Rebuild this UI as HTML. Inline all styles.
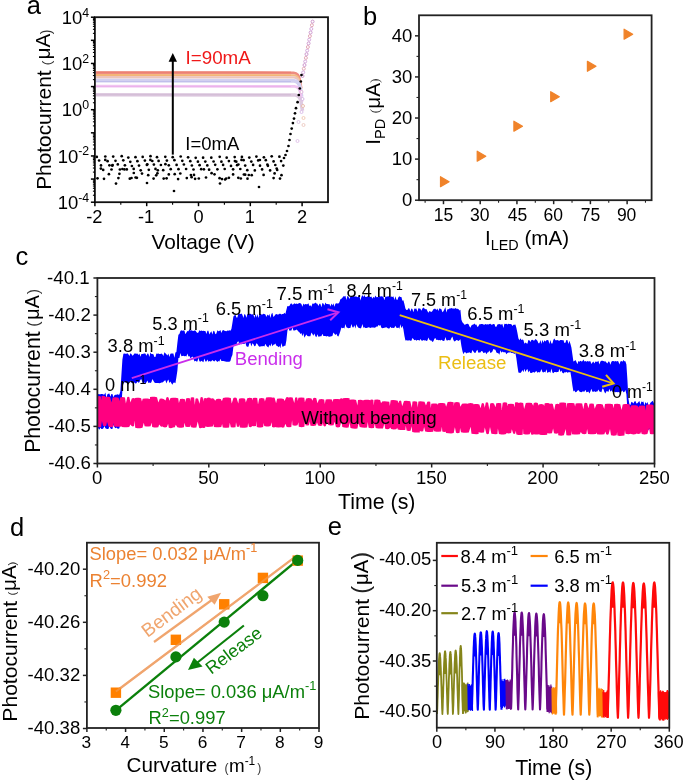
<!DOCTYPE html>
<html><head><meta charset="utf-8"><style>html,body{margin:0;padding:0;background:#fff;} svg{display:block;will-change:transform;} text{font-family:"Liberation Sans",sans-serif;}</style></head>
<body><svg width="685" height="780" viewBox="0 0 685 780">
<rect width="685" height="780" fill="#fff"/>
<path d="M95.9,72.6 L293.7,72.8 Q298.7,73.1 299.7,79.6 L301.2,88.6" fill="none" stroke="#EE8C80" stroke-width="2.8"/>
<path d="M95.9,75.0 L293.8,75.2 Q298.8,75.5 299.8,82.0 L301.3,91.0" fill="none" stroke="#F4BC84" stroke-width="2.0"/>
<path d="M95.9,77.2 L293.9,77.4 Q298.9,77.7 299.9,84.2 L301.4,93.2" fill="none" stroke="#ECC4BC" stroke-width="2.4"/>
<path d="M95.9,80.7 L294.1,80.9 Q299.1,81.2 300.1,87.7 L301.6,96.7" fill="none" stroke="#D2D0F0" stroke-width="3.8"/>
<path d="M95.9,86.2 L294.5,86.4 Q299.5,86.7 300.5,93.2 L302.0,102.2" fill="none" stroke="#F0C4F0" stroke-width="2.8"/>
<path d="M95.9,94.8 L295.0,95.0 Q300.0,95.3 301.0,101.8 L302.5,110.8" fill="none" stroke="#DECAE0" stroke-width="3.6"/>
<line x1="95.9" y1="72.0" x2="291" y2="72.0" stroke="#E4503E" stroke-width="0.8" opacity="0.45"/>
<line x1="95.9" y1="75.0" x2="291" y2="75.0" stroke="#EE9A40" stroke-width="0.8" opacity="0.45"/>
<line x1="95.9" y1="81.6" x2="291" y2="81.6" stroke="#9C9CE0" stroke-width="0.8" opacity="0.45"/>
<line x1="95.9" y1="86.4" x2="291" y2="86.4" stroke="#E48CE6" stroke-width="0.8" opacity="0.45"/>
<line x1="95.9" y1="94.8" x2="291" y2="94.8" stroke="#B898BC" stroke-width="0.8" opacity="0.45"/>
<circle cx="302.5" cy="76.0" r="1.5" fill="#fff" stroke="#C890C8" stroke-width="0.9"/>
<circle cx="303.2" cy="72.4" r="1.5" fill="#fff" stroke="#D0A0D8" stroke-width="0.9"/>
<circle cx="303.8" cy="68.7" r="1.5" fill="#fff" stroke="#E0A0B0" stroke-width="0.9"/>
<circle cx="304.5" cy="65.1" r="1.5" fill="#fff" stroke="#C890C8" stroke-width="0.9"/>
<circle cx="305.2" cy="61.5" r="1.5" fill="#fff" stroke="#D0A0D8" stroke-width="0.9"/>
<circle cx="305.9" cy="57.9" r="1.5" fill="#fff" stroke="#E0A0B0" stroke-width="0.9"/>
<circle cx="306.5" cy="54.2" r="1.5" fill="#fff" stroke="#C890C8" stroke-width="0.9"/>
<circle cx="307.2" cy="50.6" r="1.5" fill="#fff" stroke="#D0A0D8" stroke-width="0.9"/>
<circle cx="307.9" cy="47.0" r="1.5" fill="#fff" stroke="#E0A0B0" stroke-width="0.9"/>
<circle cx="308.6" cy="43.4" r="1.5" fill="#fff" stroke="#C890C8" stroke-width="0.9"/>
<circle cx="309.2" cy="39.7" r="1.5" fill="#fff" stroke="#D0A0D8" stroke-width="0.9"/>
<circle cx="309.9" cy="36.1" r="1.5" fill="#fff" stroke="#E0A0B0" stroke-width="0.9"/>
<circle cx="310.6" cy="32.5" r="1.5" fill="#fff" stroke="#C890C8" stroke-width="0.9"/>
<circle cx="311.3" cy="28.9" r="1.5" fill="#fff" stroke="#D0A0D8" stroke-width="0.9"/>
<circle cx="311.9" cy="25.2" r="1.5" fill="#fff" stroke="#E0A0B0" stroke-width="0.9"/>
<circle cx="312.6" cy="21.6" r="1.5" fill="#fff" stroke="#C890C8" stroke-width="0.9"/>
<circle cx="301.5" cy="92.0" r="1.5" fill="#fff" stroke="#E0B0D8" stroke-width="0.9"/>
<circle cx="302.5" cy="99.0" r="1.5" fill="#fff" stroke="#D0B0E0" stroke-width="0.9"/>
<circle cx="303.0" cy="106.0" r="1.5" fill="#fff" stroke="#E8B8A8" stroke-width="0.9"/>
<circle cx="301.5" cy="112.0" r="1.5" fill="#fff" stroke="#D8B8E8" stroke-width="0.9"/>
<circle cx="303.5" cy="118.0" r="1.5" fill="#fff" stroke="#F0C8B0" stroke-width="0.9"/>
<circle cx="303.5" cy="125.0" r="1.5" fill="#fff" stroke="#ECC8C0" stroke-width="0.9"/>
<circle cx="298.5" cy="122.0" r="1.5" fill="#fff" stroke="#D8C0E0" stroke-width="0.9"/>
<circle cx="297.5" cy="141.0" r="1.5" fill="#fff" stroke="#E0C0E8" stroke-width="0.9"/>
<circle cx="96.8" cy="156.9" r="1.35" fill="#000"/>
<circle cx="97.5" cy="178.3" r="1.35" fill="#000"/>
<circle cx="99.1" cy="160.5" r="1.35" fill="#000"/>
<circle cx="101.0" cy="165.4" r="1.35" fill="#000"/>
<circle cx="100.9" cy="168.6" r="1.35" fill="#000"/>
<circle cx="103.2" cy="169.9" r="1.35" fill="#000"/>
<circle cx="104.0" cy="178.8" r="1.35" fill="#000"/>
<circle cx="105.3" cy="156.5" r="1.35" fill="#000"/>
<circle cx="105.3" cy="159.9" r="1.35" fill="#000"/>
<circle cx="107.6" cy="161.2" r="1.35" fill="#000"/>
<circle cx="109.4" cy="165.3" r="1.35" fill="#000"/>
<circle cx="108.9" cy="174.2" r="1.35" fill="#000"/>
<circle cx="111.5" cy="169.5" r="1.35" fill="#000"/>
<circle cx="112.3" cy="165.7" r="1.35" fill="#000"/>
<circle cx="113.2" cy="156.6" r="1.35" fill="#000"/>
<circle cx="112.6" cy="165.0" r="1.35" fill="#000"/>
<circle cx="115.5" cy="160.8" r="1.35" fill="#000"/>
<circle cx="117.8" cy="164.4" r="1.35" fill="#000"/>
<circle cx="118.4" cy="178.1" r="1.35" fill="#000"/>
<circle cx="119.9" cy="169.5" r="1.35" fill="#000"/>
<circle cx="119.4" cy="173.8" r="1.35" fill="#000"/>
<circle cx="121.7" cy="156.2" r="1.35" fill="#000"/>
<circle cx="122.4" cy="169.0" r="1.35" fill="#000"/>
<circle cx="123.3" cy="160.3" r="1.35" fill="#000"/>
<circle cx="124.9" cy="165.3" r="1.35" fill="#000"/>
<circle cx="124.4" cy="169.4" r="1.35" fill="#000"/>
<circle cx="126.8" cy="169.4" r="1.35" fill="#000"/>
<circle cx="128.3" cy="157.6" r="1.35" fill="#000"/>
<circle cx="130.3" cy="161.8" r="1.35" fill="#000"/>
<circle cx="129.8" cy="178.7" r="1.35" fill="#000"/>
<circle cx="131.9" cy="166.0" r="1.35" fill="#000"/>
<circle cx="131.5" cy="178.0" r="1.35" fill="#000"/>
<circle cx="133.7" cy="168.9" r="1.35" fill="#000"/>
<circle cx="133.8" cy="173.0" r="1.35" fill="#000"/>
<circle cx="135.5" cy="157.2" r="1.35" fill="#000"/>
<circle cx="135.6" cy="177.5" r="1.35" fill="#000"/>
<circle cx="137.4" cy="161.2" r="1.35" fill="#000"/>
<circle cx="136.9" cy="177.8" r="1.35" fill="#000"/>
<circle cx="139.0" cy="165.6" r="1.35" fill="#000"/>
<circle cx="140.7" cy="170.3" r="1.35" fill="#000"/>
<circle cx="142.7" cy="156.9" r="1.35" fill="#000"/>
<circle cx="142.0" cy="173.6" r="1.35" fill="#000"/>
<circle cx="144.9" cy="160.6" r="1.35" fill="#000"/>
<circle cx="146.9" cy="164.9" r="1.35" fill="#000"/>
<circle cx="147.3" cy="164.3" r="1.35" fill="#000"/>
<circle cx="148.8" cy="169.8" r="1.35" fill="#000"/>
<circle cx="148.2" cy="175.2" r="1.35" fill="#000"/>
<circle cx="150.5" cy="156.2" r="1.35" fill="#000"/>
<circle cx="150.4" cy="159.9" r="1.35" fill="#000"/>
<circle cx="152.3" cy="161.0" r="1.35" fill="#000"/>
<circle cx="153.9" cy="164.6" r="1.35" fill="#000"/>
<circle cx="153.6" cy="178.6" r="1.35" fill="#000"/>
<circle cx="155.5" cy="168.9" r="1.35" fill="#000"/>
<circle cx="156.2" cy="175.3" r="1.35" fill="#000"/>
<circle cx="157.0" cy="157.2" r="1.35" fill="#000"/>
<circle cx="157.4" cy="173.3" r="1.35" fill="#000"/>
<circle cx="158.6" cy="160.9" r="1.35" fill="#000"/>
<circle cx="157.8" cy="170.3" r="1.35" fill="#000"/>
<circle cx="160.9" cy="165.0" r="1.35" fill="#000"/>
<circle cx="163.2" cy="170.2" r="1.35" fill="#000"/>
<circle cx="163.7" cy="178.6" r="1.35" fill="#000"/>
<circle cx="165.3" cy="156.8" r="1.35" fill="#000"/>
<circle cx="165.4" cy="164.2" r="1.35" fill="#000"/>
<circle cx="166.9" cy="160.6" r="1.35" fill="#000"/>
<circle cx="166.6" cy="178.3" r="1.35" fill="#000"/>
<circle cx="168.8" cy="165.3" r="1.35" fill="#000"/>
<circle cx="168.8" cy="174.4" r="1.35" fill="#000"/>
<circle cx="170.7" cy="169.2" r="1.35" fill="#000"/>
<circle cx="172.7" cy="157.2" r="1.35" fill="#000"/>
<circle cx="174.4" cy="160.2" r="1.35" fill="#000"/>
<circle cx="174.7" cy="174.2" r="1.35" fill="#000"/>
<circle cx="176.6" cy="164.9" r="1.35" fill="#000"/>
<circle cx="178.5" cy="169.2" r="1.35" fill="#000"/>
<circle cx="178.1" cy="179.1" r="1.35" fill="#000"/>
<circle cx="180.7" cy="156.5" r="1.35" fill="#000"/>
<circle cx="180.3" cy="173.5" r="1.35" fill="#000"/>
<circle cx="182.3" cy="160.8" r="1.35" fill="#000"/>
<circle cx="183.9" cy="164.5" r="1.35" fill="#000"/>
<circle cx="186.1" cy="169.0" r="1.35" fill="#000"/>
<circle cx="186.8" cy="178.1" r="1.35" fill="#000"/>
<circle cx="188.1" cy="157.3" r="1.35" fill="#000"/>
<circle cx="190.3" cy="161.2" r="1.35" fill="#000"/>
<circle cx="190.9" cy="175.1" r="1.35" fill="#000"/>
<circle cx="191.9" cy="165.5" r="1.35" fill="#000"/>
<circle cx="191.6" cy="177.2" r="1.35" fill="#000"/>
<circle cx="193.5" cy="169.5" r="1.35" fill="#000"/>
<circle cx="194.0" cy="174.9" r="1.35" fill="#000"/>
<circle cx="195.7" cy="157.8" r="1.35" fill="#000"/>
<circle cx="195.1" cy="178.8" r="1.35" fill="#000"/>
<circle cx="197.9" cy="161.7" r="1.35" fill="#000"/>
<circle cx="199.6" cy="165.2" r="1.35" fill="#000"/>
<circle cx="198.8" cy="178.5" r="1.35" fill="#000"/>
<circle cx="201.2" cy="169.2" r="1.35" fill="#000"/>
<circle cx="203.1" cy="157.7" r="1.35" fill="#000"/>
<circle cx="203.9" cy="169.3" r="1.35" fill="#000"/>
<circle cx="205.3" cy="161.6" r="1.35" fill="#000"/>
<circle cx="206.0" cy="177.5" r="1.35" fill="#000"/>
<circle cx="207.3" cy="165.4" r="1.35" fill="#000"/>
<circle cx="209.1" cy="169.7" r="1.35" fill="#000"/>
<circle cx="211.3" cy="157.7" r="1.35" fill="#000"/>
<circle cx="211.6" cy="173.2" r="1.35" fill="#000"/>
<circle cx="213.6" cy="161.5" r="1.35" fill="#000"/>
<circle cx="215.2" cy="164.8" r="1.35" fill="#000"/>
<circle cx="214.5" cy="174.3" r="1.35" fill="#000"/>
<circle cx="217.4" cy="169.3" r="1.35" fill="#000"/>
<circle cx="219.7" cy="156.8" r="1.35" fill="#000"/>
<circle cx="219.6" cy="178.2" r="1.35" fill="#000"/>
<circle cx="221.4" cy="161.7" r="1.35" fill="#000"/>
<circle cx="222.0" cy="179.1" r="1.35" fill="#000"/>
<circle cx="223.1" cy="164.9" r="1.35" fill="#000"/>
<circle cx="224.7" cy="169.0" r="1.35" fill="#000"/>
<circle cx="225.1" cy="179.5" r="1.35" fill="#000"/>
<circle cx="226.7" cy="157.7" r="1.35" fill="#000"/>
<circle cx="226.2" cy="178.5" r="1.35" fill="#000"/>
<circle cx="228.9" cy="161.1" r="1.35" fill="#000"/>
<circle cx="228.9" cy="177.8" r="1.35" fill="#000"/>
<circle cx="231.0" cy="165.9" r="1.35" fill="#000"/>
<circle cx="233.1" cy="169.3" r="1.35" fill="#000"/>
<circle cx="233.1" cy="174.4" r="1.35" fill="#000"/>
<circle cx="234.7" cy="157.1" r="1.35" fill="#000"/>
<circle cx="234.9" cy="161.1" r="1.35" fill="#000"/>
<circle cx="236.3" cy="161.7" r="1.35" fill="#000"/>
<circle cx="237.1" cy="165.2" r="1.35" fill="#000"/>
<circle cx="238.4" cy="164.5" r="1.35" fill="#000"/>
<circle cx="238.3" cy="177.8" r="1.35" fill="#000"/>
<circle cx="240.3" cy="169.0" r="1.35" fill="#000"/>
<circle cx="240.8" cy="178.5" r="1.35" fill="#000"/>
<circle cx="241.9" cy="156.9" r="1.35" fill="#000"/>
<circle cx="241.5" cy="159.9" r="1.35" fill="#000"/>
<circle cx="243.6" cy="160.2" r="1.35" fill="#000"/>
<circle cx="243.9" cy="174.5" r="1.35" fill="#000"/>
<circle cx="245.2" cy="165.6" r="1.35" fill="#000"/>
<circle cx="245.2" cy="174.7" r="1.35" fill="#000"/>
<circle cx="247.3" cy="170.2" r="1.35" fill="#000"/>
<circle cx="247.5" cy="178.7" r="1.35" fill="#000"/>
<circle cx="249.3" cy="157.6" r="1.35" fill="#000"/>
<circle cx="248.8" cy="175.0" r="1.35" fill="#000"/>
<circle cx="251.3" cy="161.6" r="1.35" fill="#000"/>
<circle cx="251.7" cy="175.2" r="1.35" fill="#000"/>
<circle cx="253.1" cy="164.9" r="1.35" fill="#000"/>
<circle cx="254.8" cy="170.4" r="1.35" fill="#000"/>
<circle cx="256.4" cy="156.6" r="1.35" fill="#000"/>
<circle cx="258.2" cy="160.4" r="1.35" fill="#000"/>
<circle cx="260.0" cy="165.7" r="1.35" fill="#000"/>
<circle cx="259.9" cy="160.0" r="1.35" fill="#000"/>
<circle cx="262.1" cy="169.4" r="1.35" fill="#000"/>
<circle cx="263.9" cy="157.3" r="1.35" fill="#000"/>
<circle cx="263.6" cy="174.9" r="1.35" fill="#000"/>
<circle cx="265.8" cy="160.2" r="1.35" fill="#000"/>
<circle cx="267.9" cy="165.8" r="1.35" fill="#000"/>
<circle cx="267.4" cy="164.5" r="1.35" fill="#000"/>
<circle cx="270.1" cy="170.4" r="1.35" fill="#000"/>
<circle cx="271.7" cy="156.3" r="1.35" fill="#000"/>
<circle cx="273.6" cy="161.4" r="1.35" fill="#000"/>
<circle cx="273.6" cy="178.1" r="1.35" fill="#000"/>
<circle cx="275.3" cy="165.0" r="1.35" fill="#000"/>
<circle cx="274.6" cy="173.4" r="1.35" fill="#000"/>
<circle cx="277.2" cy="170.0" r="1.35" fill="#000"/>
<circle cx="276.7" cy="168.6" r="1.35" fill="#000"/>
<circle cx="279.4" cy="156.7" r="1.35" fill="#000"/>
<circle cx="280.0" cy="178.6" r="1.35" fill="#000"/>
<circle cx="281.1" cy="161.1" r="1.35" fill="#000"/>
<circle cx="281.5" cy="175.2" r="1.35" fill="#000"/>
<circle cx="283.3" cy="165.6" r="1.35" fill="#000"/>
<circle cx="116.0" cy="183.6" r="1.35" fill="#000"/>
<circle cx="147.0" cy="183.0" r="1.35" fill="#000"/>
<circle cx="174.0" cy="191.0" r="1.35" fill="#000"/>
<circle cx="220.0" cy="183.5" r="1.35" fill="#000"/>
<circle cx="259.0" cy="187.0" r="1.35" fill="#000"/>
<circle cx="284.0" cy="158.0" r="1.35" fill="#000"/>
<circle cx="285.5" cy="155.0" r="1.35" fill="#000"/>
<circle cx="287.0" cy="151.0" r="1.35" fill="#000"/>
<circle cx="288.5" cy="146.0" r="1.35" fill="#000"/>
<circle cx="289.5" cy="140.0" r="1.35" fill="#000"/>
<circle cx="290.5" cy="134.0" r="1.35" fill="#000"/>
<circle cx="291.7" cy="128.6" r="1.35" fill="#000"/>
<circle cx="292.9" cy="123.1" r="1.35" fill="#000"/>
<circle cx="294.0" cy="118.6" r="1.35" fill="#000"/>
<circle cx="295.0" cy="113.3" r="1.35" fill="#000"/>
<circle cx="296.0" cy="108.2" r="1.35" fill="#000"/>
<circle cx="297.6" cy="102.2" r="1.35" fill="#000"/>
<circle cx="298.8" cy="95.0" r="1.35" fill="#000"/>
<circle cx="299.8" cy="88.5" r="1.35" fill="#000"/>
<circle cx="300.8" cy="81.5" r="1.35" fill="#000"/>
<circle cx="301.5" cy="75.0" r="1.35" fill="#000"/>
<line x1="172.80" y1="154.60" x2="172.80" y2="60.00" stroke="#000" stroke-width="2" />
<polygon points="172.8,53.1 168.6,61.8 177.0,61.8" fill="#000"/>
<rect x="94.90" y="17.20" width="233.10" height="185.00" fill="none" stroke="#111" stroke-width="1.8" />
<line x1="90.90" y1="202.20" x2="94.90" y2="202.20" stroke="#000" stroke-width="1.5" />
<line x1="92.90" y1="195.24" x2="94.90" y2="195.24" stroke="#000" stroke-width="1.1" />
<line x1="92.90" y1="191.17" x2="94.90" y2="191.17" stroke="#000" stroke-width="1.1" />
<line x1="92.90" y1="188.28" x2="94.90" y2="188.28" stroke="#000" stroke-width="1.1" />
<line x1="92.90" y1="186.04" x2="94.90" y2="186.04" stroke="#000" stroke-width="1.1" />
<line x1="92.90" y1="184.21" x2="94.90" y2="184.21" stroke="#000" stroke-width="1.1" />
<line x1="92.90" y1="182.66" x2="94.90" y2="182.66" stroke="#000" stroke-width="1.1" />
<line x1="92.90" y1="181.32" x2="94.90" y2="181.32" stroke="#000" stroke-width="1.1" />
<line x1="92.90" y1="180.13" x2="94.90" y2="180.13" stroke="#000" stroke-width="1.1" />
<line x1="90.90" y1="179.07" x2="94.90" y2="179.07" stroke="#000" stroke-width="1.5" />
<line x1="92.90" y1="172.11" x2="94.90" y2="172.11" stroke="#000" stroke-width="1.1" />
<line x1="92.90" y1="168.04" x2="94.90" y2="168.04" stroke="#000" stroke-width="1.1" />
<line x1="92.90" y1="165.15" x2="94.90" y2="165.15" stroke="#000" stroke-width="1.1" />
<line x1="92.90" y1="162.91" x2="94.90" y2="162.91" stroke="#000" stroke-width="1.1" />
<line x1="92.90" y1="161.08" x2="94.90" y2="161.08" stroke="#000" stroke-width="1.1" />
<line x1="92.90" y1="159.53" x2="94.90" y2="159.53" stroke="#000" stroke-width="1.1" />
<line x1="92.90" y1="158.19" x2="94.90" y2="158.19" stroke="#000" stroke-width="1.1" />
<line x1="92.90" y1="157.01" x2="94.90" y2="157.01" stroke="#000" stroke-width="1.1" />
<line x1="90.90" y1="155.95" x2="94.90" y2="155.95" stroke="#000" stroke-width="1.5" />
<line x1="92.90" y1="148.99" x2="94.90" y2="148.99" stroke="#000" stroke-width="1.1" />
<line x1="92.90" y1="144.92" x2="94.90" y2="144.92" stroke="#000" stroke-width="1.1" />
<line x1="92.90" y1="142.03" x2="94.90" y2="142.03" stroke="#000" stroke-width="1.1" />
<line x1="92.90" y1="139.79" x2="94.90" y2="139.79" stroke="#000" stroke-width="1.1" />
<line x1="92.90" y1="137.96" x2="94.90" y2="137.96" stroke="#000" stroke-width="1.1" />
<line x1="92.90" y1="136.41" x2="94.90" y2="136.41" stroke="#000" stroke-width="1.1" />
<line x1="92.90" y1="135.07" x2="94.90" y2="135.07" stroke="#000" stroke-width="1.1" />
<line x1="92.90" y1="133.88" x2="94.90" y2="133.88" stroke="#000" stroke-width="1.1" />
<line x1="90.90" y1="132.82" x2="94.90" y2="132.82" stroke="#000" stroke-width="1.5" />
<line x1="92.90" y1="125.86" x2="94.90" y2="125.86" stroke="#000" stroke-width="1.1" />
<line x1="92.90" y1="121.79" x2="94.90" y2="121.79" stroke="#000" stroke-width="1.1" />
<line x1="92.90" y1="118.90" x2="94.90" y2="118.90" stroke="#000" stroke-width="1.1" />
<line x1="92.90" y1="116.66" x2="94.90" y2="116.66" stroke="#000" stroke-width="1.1" />
<line x1="92.90" y1="114.83" x2="94.90" y2="114.83" stroke="#000" stroke-width="1.1" />
<line x1="92.90" y1="113.28" x2="94.90" y2="113.28" stroke="#000" stroke-width="1.1" />
<line x1="92.90" y1="111.94" x2="94.90" y2="111.94" stroke="#000" stroke-width="1.1" />
<line x1="92.90" y1="110.76" x2="94.90" y2="110.76" stroke="#000" stroke-width="1.1" />
<line x1="90.90" y1="109.70" x2="94.90" y2="109.70" stroke="#000" stroke-width="1.5" />
<line x1="92.90" y1="102.74" x2="94.90" y2="102.74" stroke="#000" stroke-width="1.1" />
<line x1="92.90" y1="98.67" x2="94.90" y2="98.67" stroke="#000" stroke-width="1.1" />
<line x1="92.90" y1="95.78" x2="94.90" y2="95.78" stroke="#000" stroke-width="1.1" />
<line x1="92.90" y1="93.54" x2="94.90" y2="93.54" stroke="#000" stroke-width="1.1" />
<line x1="92.90" y1="91.71" x2="94.90" y2="91.71" stroke="#000" stroke-width="1.1" />
<line x1="92.90" y1="90.16" x2="94.90" y2="90.16" stroke="#000" stroke-width="1.1" />
<line x1="92.90" y1="88.82" x2="94.90" y2="88.82" stroke="#000" stroke-width="1.1" />
<line x1="92.90" y1="87.63" x2="94.90" y2="87.63" stroke="#000" stroke-width="1.1" />
<line x1="90.90" y1="86.57" x2="94.90" y2="86.57" stroke="#000" stroke-width="1.5" />
<line x1="92.90" y1="79.61" x2="94.90" y2="79.61" stroke="#000" stroke-width="1.1" />
<line x1="92.90" y1="75.54" x2="94.90" y2="75.54" stroke="#000" stroke-width="1.1" />
<line x1="92.90" y1="72.65" x2="94.90" y2="72.65" stroke="#000" stroke-width="1.1" />
<line x1="92.90" y1="70.41" x2="94.90" y2="70.41" stroke="#000" stroke-width="1.1" />
<line x1="92.90" y1="68.58" x2="94.90" y2="68.58" stroke="#000" stroke-width="1.1" />
<line x1="92.90" y1="67.03" x2="94.90" y2="67.03" stroke="#000" stroke-width="1.1" />
<line x1="92.90" y1="65.69" x2="94.90" y2="65.69" stroke="#000" stroke-width="1.1" />
<line x1="92.90" y1="64.51" x2="94.90" y2="64.51" stroke="#000" stroke-width="1.1" />
<line x1="90.90" y1="63.45" x2="94.90" y2="63.45" stroke="#000" stroke-width="1.5" />
<line x1="92.90" y1="56.49" x2="94.90" y2="56.49" stroke="#000" stroke-width="1.1" />
<line x1="92.90" y1="52.42" x2="94.90" y2="52.42" stroke="#000" stroke-width="1.1" />
<line x1="92.90" y1="49.53" x2="94.90" y2="49.53" stroke="#000" stroke-width="1.1" />
<line x1="92.90" y1="47.29" x2="94.90" y2="47.29" stroke="#000" stroke-width="1.1" />
<line x1="92.90" y1="45.46" x2="94.90" y2="45.46" stroke="#000" stroke-width="1.1" />
<line x1="92.90" y1="43.91" x2="94.90" y2="43.91" stroke="#000" stroke-width="1.1" />
<line x1="92.90" y1="42.57" x2="94.90" y2="42.57" stroke="#000" stroke-width="1.1" />
<line x1="92.90" y1="41.38" x2="94.90" y2="41.38" stroke="#000" stroke-width="1.1" />
<line x1="90.90" y1="40.32" x2="94.90" y2="40.32" stroke="#000" stroke-width="1.5" />
<line x1="92.90" y1="33.36" x2="94.90" y2="33.36" stroke="#000" stroke-width="1.1" />
<line x1="92.90" y1="29.29" x2="94.90" y2="29.29" stroke="#000" stroke-width="1.1" />
<line x1="92.90" y1="26.40" x2="94.90" y2="26.40" stroke="#000" stroke-width="1.1" />
<line x1="92.90" y1="24.16" x2="94.90" y2="24.16" stroke="#000" stroke-width="1.1" />
<line x1="92.90" y1="22.33" x2="94.90" y2="22.33" stroke="#000" stroke-width="1.1" />
<line x1="92.90" y1="20.78" x2="94.90" y2="20.78" stroke="#000" stroke-width="1.1" />
<line x1="92.90" y1="19.44" x2="94.90" y2="19.44" stroke="#000" stroke-width="1.1" />
<line x1="92.90" y1="18.26" x2="94.90" y2="18.26" stroke="#000" stroke-width="1.1" />
<line x1="90.90" y1="17.20" x2="94.90" y2="17.20" stroke="#000" stroke-width="1.5" />
<line x1="94.90" y1="202.20" x2="94.90" y2="206.20" stroke="#000" stroke-width="1.5" />
<line x1="146.70" y1="202.20" x2="146.70" y2="206.20" stroke="#000" stroke-width="1.5" />
<line x1="198.50" y1="202.20" x2="198.50" y2="206.20" stroke="#000" stroke-width="1.5" />
<line x1="250.30" y1="202.20" x2="250.30" y2="206.20" stroke="#000" stroke-width="1.5" />
<line x1="302.10" y1="202.20" x2="302.10" y2="206.20" stroke="#000" stroke-width="1.5" />
<line x1="120.80" y1="202.20" x2="120.80" y2="204.70" stroke="#000" stroke-width="1.1" />
<line x1="172.60" y1="202.20" x2="172.60" y2="204.70" stroke="#000" stroke-width="1.1" />
<line x1="224.40" y1="202.20" x2="224.40" y2="204.70" stroke="#000" stroke-width="1.1" />
<line x1="276.20" y1="202.20" x2="276.20" y2="204.70" stroke="#000" stroke-width="1.1" />
<rect x="419.00" y="15.30" width="232.60" height="184.90" fill="none" stroke="#222" stroke-width="1.8" />
<line x1="415.00" y1="200.20" x2="419.00" y2="200.20" stroke="#222" stroke-width="1.5" />
<line x1="415.00" y1="159.11" x2="419.00" y2="159.11" stroke="#222" stroke-width="1.5" />
<line x1="415.00" y1="118.02" x2="419.00" y2="118.02" stroke="#222" stroke-width="1.5" />
<line x1="415.00" y1="76.93" x2="419.00" y2="76.93" stroke="#222" stroke-width="1.5" />
<line x1="415.00" y1="35.84" x2="419.00" y2="35.84" stroke="#222" stroke-width="1.5" />
<line x1="416.50" y1="179.66" x2="419.00" y2="179.66" stroke="#222" stroke-width="1.1" />
<line x1="416.50" y1="138.57" x2="419.00" y2="138.57" stroke="#222" stroke-width="1.1" />
<line x1="416.50" y1="97.48" x2="419.00" y2="97.48" stroke="#222" stroke-width="1.1" />
<line x1="416.50" y1="56.39" x2="419.00" y2="56.39" stroke="#222" stroke-width="1.1" />
<line x1="443.48" y1="200.20" x2="443.48" y2="204.20" stroke="#222" stroke-width="1.5" />
<line x1="480.21" y1="200.20" x2="480.21" y2="204.20" stroke="#222" stroke-width="1.5" />
<line x1="516.94" y1="200.20" x2="516.94" y2="204.20" stroke="#222" stroke-width="1.5" />
<line x1="553.66" y1="200.20" x2="553.66" y2="204.20" stroke="#222" stroke-width="1.5" />
<line x1="590.39" y1="200.20" x2="590.39" y2="204.20" stroke="#222" stroke-width="1.5" />
<line x1="627.12" y1="200.20" x2="627.12" y2="204.20" stroke="#222" stroke-width="1.5" />
<line x1="425.12" y1="200.20" x2="425.12" y2="202.70" stroke="#222" stroke-width="1.1" />
<line x1="461.85" y1="200.20" x2="461.85" y2="202.70" stroke="#222" stroke-width="1.1" />
<line x1="498.57" y1="200.20" x2="498.57" y2="202.70" stroke="#222" stroke-width="1.1" />
<line x1="535.30" y1="200.20" x2="535.30" y2="202.70" stroke="#222" stroke-width="1.1" />
<line x1="572.03" y1="200.20" x2="572.03" y2="202.70" stroke="#222" stroke-width="1.1" />
<line x1="608.75" y1="200.20" x2="608.75" y2="202.70" stroke="#222" stroke-width="1.1" />
<line x1="645.48" y1="200.20" x2="645.48" y2="202.70" stroke="#222" stroke-width="1.1" />
<polygon points="440.5,176.7 449.1,181.7 440.5,186.7" fill="#F0832A" stroke="#F0832A" stroke-width="1.2" stroke-linejoin="round"/>
<polygon points="477.2,151.2 485.8,156.2 477.2,161.2" fill="#F0832A" stroke="#F0832A" stroke-width="1.2" stroke-linejoin="round"/>
<polygon points="513.9,121.2 522.5,126.2 513.9,131.2" fill="#F0832A" stroke="#F0832A" stroke-width="1.2" stroke-linejoin="round"/>
<polygon points="550.7,91.7 559.3,96.7 550.7,101.7" fill="#F0832A" stroke="#F0832A" stroke-width="1.2" stroke-linejoin="round"/>
<polygon points="587.4,61.3 596.0,66.3 587.4,71.3" fill="#F0832A" stroke="#F0832A" stroke-width="1.2" stroke-linejoin="round"/>
<polygon points="624.1,29.2 632.7,34.2 624.1,39.2" fill="#F0832A" stroke="#F0832A" stroke-width="1.2" stroke-linejoin="round"/>
<polygon points="97.4,394.7 98.4,394.1 99.4,394.2 100.4,394.3 101.4,394.0 102.4,394.1 103.4,394.5 104.4,394.5 105.4,392.5 106.4,397.9 107.4,394.3 108.4,393.7 109.4,393.6 110.4,396.7 111.4,394.1 112.4,393.9 113.4,397.3 114.4,395.3 115.4,394.7 116.4,394.7 117.4,394.2 118.4,394.7 119.4,394.6 120.4,391.0 121.4,375.1 122.4,359.6 123.4,353.7 124.4,353.4 125.4,353.8 126.4,353.8 127.4,353.3 128.4,354.2 129.4,356.0 130.4,353.2 131.4,353.9 132.4,355.7 133.4,355.1 134.4,353.4 135.4,353.5 136.4,353.8 137.4,353.5 138.4,354.9 139.4,353.5 140.4,356.7 141.4,353.9 142.4,354.0 143.4,353.8 144.4,353.6 145.4,353.6 146.4,355.8 147.4,353.6 148.4,353.7 149.4,357.0 150.4,352.5 151.4,353.9 152.4,354.0 153.4,354.2 154.4,356.9 155.4,357.0 156.4,353.5 157.4,353.7 158.4,353.6 159.4,354.1 160.4,353.9 161.4,353.6 162.4,354.3 163.4,356.0 164.4,352.2 165.4,353.3 166.4,354.2 167.4,355.4 168.4,353.4 169.4,357.0 170.4,353.7 171.4,353.5 172.4,353.4 173.4,353.6 174.4,357.7 175.4,352.4 176.4,352.1 177.4,342.8 178.4,334.8 179.4,334.0 180.4,331.1 181.4,330.2 182.4,330.8 183.4,330.6 184.4,330.4 185.4,334.2 186.4,332.6 187.4,330.9 188.4,331.3 189.4,329.3 190.4,330.6 191.4,330.3 192.4,330.7 193.4,330.9 194.4,330.5 195.4,330.5 196.4,332.0 197.4,332.9 198.4,332.4 199.4,330.2 200.4,330.9 201.4,330.5 202.4,330.9 203.4,330.8 204.4,330.9 205.4,331.0 206.4,334.0 207.4,330.7 208.4,330.7 209.4,334.5 210.4,332.4 211.4,331.2 212.4,334.6 213.4,330.8 214.4,331.3 215.4,334.2 216.4,333.4 217.4,330.2 218.4,331.2 219.4,331.0 220.4,330.1 221.4,332.9 222.4,330.4 223.4,330.1 224.4,330.8 225.4,330.9 226.4,331.3 227.4,330.6 228.4,330.7 229.4,330.2 230.4,330.8 231.4,328.9 232.4,323.0 233.4,316.4 234.4,315.4 235.4,314.6 236.4,317.4 237.4,317.6 238.4,313.6 239.4,313.7 240.4,314.0 241.4,313.5 242.4,314.8 243.4,318.0 244.4,314.0 245.4,314.8 246.4,317.8 247.4,314.0 248.4,313.8 249.4,313.7 250.4,313.8 251.4,314.5 252.4,314.3 253.4,314.4 254.4,318.1 255.4,313.7 256.4,317.6 257.4,313.9 258.4,317.9 259.4,314.5 260.4,313.8 261.4,314.4 262.4,314.6 263.4,313.8 264.4,313.9 265.4,314.5 266.4,316.9 267.4,314.5 268.4,315.7 269.4,314.1 270.4,317.9 271.4,313.9 272.4,312.7 273.4,317.0 274.4,316.0 275.4,314.5 276.4,313.9 277.4,314.5 278.4,314.5 279.4,313.8 280.4,313.7 281.4,314.5 282.4,313.9 283.4,314.0 284.4,312.8 285.4,314.0 286.4,309.7 287.4,306.1 288.4,306.3 289.4,306.1 290.4,303.9 291.4,303.2 292.4,304.8 293.4,304.2 294.4,303.3 295.4,304.0 296.4,303.6 297.4,304.0 298.4,303.4 299.4,303.1 300.4,303.3 301.4,303.9 302.4,306.8 303.4,303.4 304.4,304.8 305.4,304.1 306.4,304.2 307.4,304.2 308.4,303.2 309.4,305.9 310.4,305.2 311.4,306.7 312.4,303.6 313.4,303.8 314.4,303.5 315.4,302.4 316.4,303.4 317.4,303.8 318.4,306.1 319.4,303.8 320.4,303.8 321.4,307.2 322.4,303.1 323.4,303.5 324.4,305.4 325.4,302.5 326.4,303.9 327.4,304.1 328.4,304.2 329.4,303.9 330.4,306.6 331.4,303.4 332.4,305.4 333.4,303.3 334.4,306.8 335.4,303.7 336.4,303.2 337.4,303.6 338.4,303.5 339.4,302.2 340.4,299.3 341.4,298.8 342.4,297.7 343.4,296.3 344.4,296.6 345.4,295.8 346.4,299.9 347.4,296.1 348.4,296.5 349.4,298.9 350.4,296.6 351.4,296.3 352.4,296.4 353.4,296.1 354.4,296.4 355.4,296.4 356.4,296.5 357.4,297.3 358.4,296.6 359.4,295.5 360.4,300.5 361.4,297.1 362.4,295.0 363.4,297.0 364.4,295.0 365.4,297.1 366.4,297.1 367.4,296.2 368.4,296.4 369.4,296.4 370.4,297.1 371.4,296.4 372.4,298.7 373.4,296.8 374.4,298.1 375.4,295.5 376.4,297.2 377.4,297.0 378.4,297.3 379.4,296.3 380.4,296.5 381.4,296.3 382.4,296.4 383.4,296.9 384.4,300.2 385.4,296.6 386.4,296.8 387.4,296.6 388.4,296.3 389.4,296.5 390.4,297.1 391.4,296.4 392.4,297.1 393.4,296.2 394.4,300.1 395.4,296.3 396.4,299.4 397.4,300.1 398.4,297.2 399.4,296.2 400.4,297.1 401.4,297.1 402.4,300.7 403.4,300.2 404.4,304.0 405.4,308.4 406.4,310.1 407.4,310.0 408.4,308.3 409.4,308.5 410.4,311.6 411.4,308.6 412.4,308.9 413.4,312.3 414.4,308.6 415.4,308.8 416.4,308.4 417.4,311.8 418.4,308.3 419.4,308.5 420.4,308.8 421.4,310.8 422.4,308.5 423.4,307.6 424.4,308.5 425.4,309.3 426.4,308.9 427.4,311.1 428.4,312.7 429.4,310.9 430.4,311.6 431.4,312.1 432.4,311.1 433.4,309.2 434.4,308.7 435.4,308.7 436.4,310.0 437.4,308.4 438.4,311.1 439.4,308.2 440.4,308.7 441.4,309.3 442.4,312.2 443.4,311.3 444.4,309.3 445.4,307.3 446.4,312.5 447.4,309.2 448.4,309.2 449.4,308.4 450.4,308.5 451.4,308.0 452.4,308.6 453.4,308.5 454.4,308.7 455.4,308.1 456.4,308.8 457.4,308.8 458.4,309.0 459.4,310.5 460.4,309.8 461.4,319.8 462.4,322.2 463.4,323.3 464.4,324.7 465.4,324.5 466.4,324.1 467.4,323.7 468.4,324.1 469.4,326.2 470.4,327.7 471.4,325.6 472.4,324.7 473.4,324.6 474.4,323.6 475.4,324.7 476.4,324.5 477.4,327.0 478.4,326.2 479.4,324.3 480.4,324.2 481.4,323.9 482.4,323.9 483.4,324.5 484.4,324.8 485.4,323.9 486.4,324.6 487.4,324.3 488.4,324.5 489.4,323.9 490.4,323.7 491.4,324.7 492.4,324.5 493.4,323.9 494.4,323.9 495.4,326.7 496.4,326.7 497.4,324.6 498.4,324.2 499.4,323.9 500.4,324.5 501.4,324.5 502.4,324.0 503.4,328.0 504.4,323.7 505.4,324.0 506.4,323.7 507.4,324.4 508.4,323.7 509.4,324.0 510.4,324.1 511.4,324.3 512.4,326.1 513.4,324.8 514.4,324.7 515.4,324.4 516.4,328.0 517.4,332.8 518.4,338.2 519.4,340.3 520.4,338.3 521.4,340.1 522.4,339.4 523.4,340.0 524.4,343.8 525.4,342.6 526.4,343.2 527.4,343.8 528.4,340.0 529.4,340.2 530.4,341.9 531.4,340.0 532.4,339.8 533.4,340.5 534.4,340.5 535.4,338.9 536.4,339.8 537.4,340.7 538.4,343.3 539.4,343.2 540.4,340.1 541.4,344.0 542.4,339.7 543.4,342.8 544.4,340.2 545.4,341.4 546.4,340.2 547.4,340.0 548.4,340.3 549.4,344.0 550.4,340.1 551.4,343.4 552.4,343.6 553.4,339.8 554.4,338.6 555.4,340.3 556.4,340.3 557.4,340.0 558.4,340.6 559.4,340.8 560.4,339.9 561.4,339.9 562.4,340.3 563.4,340.1 564.4,342.9 565.4,342.7 566.4,339.9 567.4,339.9 568.4,343.9 569.4,340.7 570.4,343.7 571.4,347.5 572.4,354.4 573.4,361.6 574.4,361.0 575.4,360.0 576.4,361.7 577.4,364.2 578.4,361.0 579.4,361.8 580.4,360.7 581.4,361.6 582.4,361.2 583.4,359.4 584.4,361.5 585.4,360.9 586.4,361.7 587.4,360.9 588.4,361.5 589.4,361.2 590.4,361.2 591.4,363.9 592.4,362.4 593.4,361.4 594.4,363.6 595.4,361.4 596.4,361.7 597.4,361.8 598.4,360.7 599.4,364.4 600.4,361.4 601.4,360.7 602.4,360.7 603.4,361.1 604.4,361.5 605.4,361.3 606.4,362.4 607.4,363.4 608.4,361.6 609.4,361.8 610.4,364.8 611.4,361.7 612.4,361.1 613.4,361.0 614.4,361.5 615.4,361.1 616.4,361.5 617.4,361.0 618.4,361.4 619.4,364.5 620.4,361.5 621.4,360.9 622.4,361.8 623.4,360.1 624.4,361.3 625.4,361.3 626.4,364.4 627.4,379.7 628.4,398.2 629.4,404.6 630.4,405.1 631.4,401.7 632.4,402.2 633.4,403.6 634.4,401.6 635.4,401.1 636.4,403.6 637.4,403.2 638.4,402.0 639.4,401.1 640.4,404.8 641.4,401.4 642.4,402.1 643.4,401.4 644.4,405.6 645.4,402.1 646.4,403.8 647.4,402.1 648.4,404.9 649.4,405.2 650.4,402.8 651.4,402.1 652.4,400.7 653.4,401.9 654.4,404.4 654.4,428.6 653.4,428.8 652.4,425.6 651.4,425.1 650.4,429.4 649.4,428.9 648.4,430.3 647.4,425.9 646.4,428.5 645.4,429.0 644.4,428.7 643.4,426.7 642.4,428.9 641.4,428.6 640.4,428.6 639.4,429.2 638.4,426.3 637.4,425.1 636.4,429.3 635.4,429.0 634.4,425.9 633.4,429.0 632.4,429.1 631.4,429.4 630.4,428.4 629.4,429.0 628.4,423.1 627.4,409.4 626.4,394.2 625.4,389.9 624.4,392.1 623.4,392.2 622.4,390.5 621.4,391.5 620.4,392.9 619.4,392.4 618.4,392.0 617.4,392.3 616.4,392.0 615.4,392.3 614.4,391.8 613.4,391.7 612.4,391.7 611.4,390.2 610.4,391.7 609.4,388.7 608.4,391.9 607.4,391.3 606.4,391.2 605.4,393.4 604.4,392.0 603.4,389.1 602.4,388.6 601.4,392.3 600.4,391.7 599.4,391.6 598.4,389.5 597.4,391.4 596.4,391.5 595.4,391.9 594.4,391.3 593.4,391.7 592.4,391.8 591.4,388.8 590.4,391.5 589.4,393.6 588.4,391.5 587.4,391.9 586.4,392.3 585.4,389.7 584.4,391.8 583.4,391.5 582.4,391.6 581.4,392.3 580.4,392.1 579.4,391.4 578.4,389.9 577.4,390.7 576.4,392.0 575.4,392.2 574.4,390.6 573.4,391.4 572.4,385.4 571.4,377.9 570.4,372.1 569.4,372.3 568.4,372.2 567.4,372.7 566.4,371.8 565.4,372.5 564.4,372.3 563.4,373.5 562.4,372.8 561.4,370.4 560.4,371.9 559.4,368.8 558.4,371.9 557.4,372.0 556.4,372.3 555.4,372.1 554.4,372.1 553.4,373.3 552.4,372.5 551.4,368.4 550.4,373.0 549.4,371.7 548.4,372.3 547.4,372.9 546.4,369.3 545.4,372.6 544.4,371.8 543.4,372.4 542.4,371.9 541.4,368.9 540.4,371.8 539.4,372.6 538.4,371.9 537.4,372.8 536.4,370.9 535.4,371.8 534.4,372.7 533.4,372.0 532.4,372.6 531.4,372.9 530.4,372.9 529.4,370.6 528.4,372.5 527.4,369.0 526.4,369.9 525.4,372.1 524.4,368.7 523.4,372.2 522.4,370.1 521.4,372.1 520.4,372.9 519.4,372.7 518.4,372.5 517.4,366.1 516.4,358.6 515.4,352.9 514.4,354.0 513.4,353.3 512.4,353.0 511.4,352.9 510.4,352.3 509.4,352.4 508.4,352.4 507.4,353.1 506.4,354.2 505.4,352.3 504.4,352.3 503.4,352.3 502.4,351.6 501.4,352.8 500.4,350.2 499.4,354.7 498.4,353.3 497.4,352.9 496.4,352.4 495.4,349.7 494.4,349.6 493.4,348.9 492.4,351.4 491.4,352.6 490.4,352.9 489.4,350.4 488.4,352.3 487.4,352.4 486.4,354.3 485.4,352.3 484.4,352.7 483.4,352.9 482.4,351.3 481.4,351.0 480.4,352.6 479.4,352.6 478.4,352.8 477.4,349.8 476.4,351.0 475.4,353.0 474.4,352.7 473.4,351.4 472.4,350.0 471.4,353.3 470.4,352.9 469.4,352.3 468.4,352.7 467.4,352.7 466.4,353.4 465.4,352.2 464.4,352.2 463.4,354.2 462.4,351.0 461.4,345.9 460.4,339.3 459.4,340.2 458.4,340.9 457.4,340.3 456.4,340.1 455.4,340.9 454.4,341.4 453.4,340.0 452.4,336.6 451.4,337.9 450.4,340.2 449.4,340.2 448.4,340.1 447.4,340.4 446.4,340.3 445.4,337.1 444.4,340.7 443.4,341.0 442.4,340.6 441.4,339.7 440.4,340.4 439.4,339.9 438.4,340.3 437.4,339.8 436.4,340.1 435.4,338.0 434.4,338.7 433.4,341.3 432.4,342.1 431.4,340.6 430.4,340.6 429.4,339.8 428.4,337.4 427.4,340.5 426.4,340.9 425.4,340.2 424.4,340.4 423.4,340.1 422.4,340.8 421.4,340.6 420.4,339.0 419.4,340.7 418.4,340.0 417.4,340.0 416.4,340.8 415.4,339.8 414.4,340.2 413.4,338.9 412.4,338.0 411.4,340.8 410.4,340.7 409.4,340.2 408.4,340.5 407.4,340.4 406.4,340.3 405.4,340.5 404.4,335.8 403.4,329.2 402.4,325.7 401.4,328.3 400.4,324.3 399.4,328.8 398.4,327.4 397.4,328.1 396.4,327.8 395.4,325.7 394.4,327.8 393.4,328.1 392.4,327.8 391.4,328.0 390.4,326.8 389.4,328.4 388.4,328.4 387.4,327.9 386.4,327.2 385.4,327.5 384.4,327.7 383.4,327.9 382.4,328.3 381.4,327.7 380.4,324.9 379.4,325.8 378.4,325.0 377.4,326.8 376.4,326.4 375.4,327.6 374.4,327.7 373.4,327.4 372.4,327.5 371.4,327.6 370.4,328.0 369.4,327.6 368.4,327.2 367.4,327.7 366.4,328.1 365.4,328.1 364.4,327.2 363.4,327.8 362.4,324.0 361.4,327.4 360.4,328.4 359.4,327.9 358.4,327.7 357.4,326.4 356.4,324.3 355.4,328.4 354.4,325.2 353.4,327.4 352.4,327.3 351.4,324.1 350.4,327.9 349.4,328.1 348.4,328.2 347.4,327.8 346.4,327.3 345.4,323.9 344.4,328.4 343.4,327.7 342.4,328.3 341.4,327.5 340.4,331.1 339.4,333.9 338.4,336.6 337.4,336.0 336.4,333.8 335.4,334.9 334.4,333.7 333.4,332.5 332.4,335.9 331.4,336.3 330.4,336.4 329.4,336.7 328.4,336.6 327.4,336.1 326.4,336.4 325.4,336.0 324.4,336.0 323.4,335.9 322.4,333.8 321.4,336.2 320.4,336.2 319.4,336.6 318.4,336.8 317.4,334.3 316.4,337.3 315.4,336.3 314.4,333.5 313.4,335.7 312.4,334.0 311.4,332.6 310.4,336.3 309.4,336.3 308.4,336.2 307.4,336.0 306.4,334.4 305.4,336.1 304.4,337.7 303.4,333.3 302.4,336.2 301.4,332.9 300.4,334.1 299.4,332.2 298.4,331.5 297.4,330.3 296.4,329.4 295.4,330.2 294.4,330.6 293.4,330.5 292.4,327.6 291.4,330.6 290.4,330.4 289.4,330.7 288.4,327.4 287.4,330.8 286.4,340.2 285.4,345.8 284.4,345.8 283.4,346.4 282.4,346.8 281.4,343.1 280.4,348.3 279.4,346.1 278.4,347.2 277.4,345.9 276.4,345.8 275.4,343.5 274.4,344.4 273.4,344.8 272.4,346.3 271.4,343.2 270.4,346.4 269.4,344.7 268.4,347.5 267.4,346.7 266.4,345.7 265.4,343.8 264.4,346.6 263.4,345.9 262.4,346.3 261.4,346.3 260.4,346.5 259.4,346.8 258.4,345.7 257.4,343.9 256.4,343.2 255.4,346.0 254.4,346.3 253.4,344.2 252.4,343.2 251.4,346.5 250.4,343.0 249.4,343.2 248.4,346.8 247.4,346.7 246.4,346.3 245.4,342.7 244.4,343.9 243.4,343.9 242.4,343.9 241.4,344.3 240.4,343.8 239.4,344.7 238.4,341.2 237.4,341.9 236.4,344.8 235.4,344.7 234.4,344.9 233.4,346.8 232.4,355.0 231.4,357.3 230.4,361.1 229.4,361.8 228.4,361.8 227.4,361.8 226.4,361.7 225.4,361.6 224.4,361.2 223.4,360.9 222.4,361.1 221.4,360.9 220.4,358.7 219.4,361.4 218.4,361.1 217.4,362.1 216.4,360.9 215.4,360.0 214.4,361.4 213.4,361.0 212.4,360.0 211.4,361.3 210.4,361.5 209.4,360.9 208.4,361.7 207.4,359.4 206.4,361.4 205.4,361.4 204.4,358.4 203.4,362.3 202.4,361.6 201.4,360.7 200.4,361.7 199.4,361.2 198.4,357.7 197.4,361.4 196.4,361.5 195.4,360.8 194.4,361.4 193.4,357.9 192.4,356.6 191.4,357.4 190.4,358.3 189.4,356.0 188.4,356.5 187.4,353.5 186.4,356.6 185.4,356.1 184.4,356.3 183.4,355.8 182.4,356.1 181.4,356.3 180.4,353.1 179.4,358.0 178.4,358.0 177.4,370.6 176.4,377.2 175.4,383.2 174.4,382.5 173.4,382.8 172.4,384.7 171.4,383.3 170.4,381.5 169.4,382.9 168.4,379.6 167.4,381.0 166.4,383.5 165.4,380.2 164.4,380.7 163.4,381.7 162.4,382.4 161.4,382.4 160.4,383.1 159.4,383.3 158.4,383.0 157.4,383.0 156.4,383.0 155.4,383.1 154.4,382.5 153.4,380.7 152.4,379.0 151.4,382.3 150.4,382.9 149.4,382.5 148.4,382.9 147.4,380.5 146.4,382.6 145.4,383.3 144.4,382.6 143.4,383.3 142.4,382.3 141.4,379.2 140.4,379.7 139.4,382.3 138.4,382.8 137.4,381.4 136.4,383.3 135.4,383.4 134.4,382.5 133.4,382.9 132.4,383.2 131.4,382.8 130.4,380.8 129.4,382.3 128.4,383.4 127.4,381.7 126.4,383.0 125.4,382.5 124.4,381.5 123.4,383.3 122.4,389.8 121.4,407.8 120.4,421.4 119.4,428.3 118.4,428.8 117.4,428.5 116.4,427.5 115.4,428.3 114.4,427.1 113.4,424.8 112.4,428.9 111.4,428.9 110.4,428.3 109.4,426.2 108.4,429.1 107.4,429.0 106.4,428.8 105.4,428.3 104.4,426.0 103.4,428.2 102.4,429.0 101.4,428.9 100.4,427.6 99.4,429.8 98.4,428.3 97.4,429.1" fill="#0000FF"/>
<polygon points="97.4,396.4 99.1,396.0 100.9,396.5 101.3,400.3 101.6,396.1 103.4,395.8 105.2,396.2 105.2,397.0 107.6,396.7 110.1,397.1 111.5,402.5 112.6,397.6 115.6,397.2 118.6,397.7 119.4,401.1 120.1,397.4 122.5,397.1 125.0,397.5 125.9,403.5 127.3,397.1 128.4,396.8 129.4,397.2 130.4,402.4 131.8,398.4 133.4,398.0 135.0,398.4 135.0,398.1 137.0,397.8 139.0,397.8 141.1,398.2 141.9,401.6 142.7,398.8 145.1,398.5 147.6,398.6 150.0,398.9 150.0,397.1 152.3,396.8 154.7,396.8 157.0,397.2 158.4,402.5 159.8,398.8 161.7,398.5 163.6,398.9 165.6,400.5 166.4,397.5 167.4,397.1 168.5,397.5 169.5,400.7 170.5,398.1 173.1,397.8 175.6,397.8 178.2,398.2 178.9,402.9 180.1,399.1 182.5,398.8 184.9,399.2 185.5,402.4 186.0,398.5 188.0,398.1 190.1,398.6 190.5,401.4 190.8,397.6 192.4,397.2 194.1,397.6 194.8,404.7 195.5,398.7 196.8,398.3 198.1,398.7 199.5,403.7 200.5,397.5 201.7,397.1 202.8,397.5 203.2,401.4 203.8,398.4 205.3,398.0 206.8,398.4 206.8,398.0 208.8,397.6 210.7,398.0 210.7,398.7 212.3,398.3 213.9,398.7 215.2,400.7 216.5,399.1 218.7,398.7 220.8,399.1 221.9,401.3 223.0,397.9 225.6,397.6 228.2,397.6 230.8,397.9 231.7,403.5 233.4,397.9 235.0,397.5 236.6,397.9 238.3,403.6 239.0,398.7 241.0,398.3 243.1,398.3 245.1,398.7 245.8,402.6 247.3,398.2 249.7,397.8 252.2,398.2 252.8,400.5 253.0,398.1 255.1,397.7 257.2,398.1 258.0,404.5 259.2,398.4 261.7,398.0 264.2,398.4 264.9,401.5 266.1,397.6 268.2,397.2 270.3,397.2 272.4,397.6 272.4,397.8 273.5,397.4 274.6,397.8 276.1,403.2 277.1,398.8 279.3,398.5 281.5,398.5 283.7,398.9 284.6,401.1 286.1,397.5 287.2,397.1 288.3,397.5 288.3,397.6 290.5,397.2 292.6,397.6 294.3,403.1 295.1,397.7 296.2,397.3 297.3,397.7 297.7,400.9 298.4,397.8 301.3,397.4 304.3,397.8 304.9,402.2 306.1,398.5 308.8,398.1 311.5,398.6 312.4,400.7 313.2,398.2 314.8,397.8 316.3,398.3 317.5,403.2 318.9,399.5 321.5,399.1 324.2,399.6 324.8,403.9 325.7,399.5 327.7,399.2 329.8,399.2 331.9,399.6 332.7,402.1 333.2,399.2 335.4,398.9 337.7,398.9 339.9,399.3 339.9,398.7 341.5,398.3 343.0,398.8 343.0,398.2 345.2,397.9 347.4,397.9 349.6,398.3 349.6,399.8 351.8,399.5 353.9,399.6 356.1,400.0 357.4,405.6 358.0,400.1 360.8,399.8 363.5,400.4 363.5,399.9 365.8,399.7 368.2,399.8 370.5,400.2 370.5,399.7 372.0,399.4 373.4,399.9 373.7,405.6 374.4,399.7 377.3,399.4 380.1,400.0 381.1,403.3 382.1,401.5 384.5,401.3 386.9,401.4 389.3,401.8 389.8,406.0 390.7,400.3 393.1,400.1 395.5,400.2 397.8,400.7 398.2,403.3 399.2,401.0 400.2,400.6 401.2,401.1 402.2,406.3 404.0,401.0 406.1,400.8 408.2,400.9 410.3,401.3 411.8,407.7 412.5,401.6 414.8,401.3 417.1,401.8 417.7,407.5 418.4,401.5 420.5,401.3 422.5,401.4 424.5,401.8 426.0,405.4 427.3,401.7 428.8,401.4 430.2,401.8 430.8,408.0 431.3,403.7 433.3,403.4 435.4,403.4 437.4,403.8 437.8,405.0 438.3,403.3 440.6,403.0 442.9,403.0 445.2,403.4 446.1,406.7 447.7,402.1 450.6,401.8 453.6,402.2 453.8,405.9 454.3,402.4 456.9,402.1 459.5,402.5 460.4,406.8 462.0,403.7 464.0,403.4 466.0,403.4 468.0,403.8 468.0,403.5 470.6,403.1 473.3,403.6 473.3,404.3 475.3,404.0 477.4,404.0 479.4,404.4 480.5,408.3 481.7,403.4 482.7,403.0 483.8,403.4 484.8,407.8 485.7,402.7 486.9,402.3 488.1,402.8 489.4,409.9 490.2,403.4 492.1,403.0 494.0,403.4 495.5,407.3 496.3,403.3 498.8,402.9 501.2,403.3 501.7,410.0 502.7,402.7 504.9,402.3 507.1,402.7 507.6,406.2 508.1,404.1 510.9,403.7 513.7,404.1 514.6,407.2 515.0,402.6 516.7,402.2 518.3,402.6 518.3,402.9 520.8,402.5 523.2,402.9 524.1,409.0 525.8,403.0 527.8,402.7 529.8,402.7 531.8,403.0 533.2,405.8 533.8,402.9 535.8,402.5 537.8,402.9 538.3,405.8 538.7,404.4 541.2,404.0 543.6,404.5 544.2,405.9 544.7,403.3 547.1,402.9 549.5,403.3 549.5,404.0 551.2,403.6 552.8,404.0 554.2,410.0 555.4,404.2 557.4,403.8 559.3,404.2 559.3,402.8 561.6,402.5 563.9,402.5 566.1,402.9 566.8,408.2 567.1,403.3 569.5,403.0 571.9,403.0 574.3,403.3 575.1,406.6 575.7,403.5 577.8,403.2 580.0,403.2 582.2,403.6 583.3,409.2 584.4,403.2 585.7,402.8 587.1,403.2 588.4,408.2 589.5,403.8 591.6,403.4 593.7,403.8 594.7,408.8 596.5,404.3 598.5,404.0 600.6,404.1 602.7,404.4 604.2,409.0 605.0,404.1 607.6,403.8 610.2,403.8 612.8,404.2 613.5,408.3 614.3,404.1 617.2,403.8 620.2,404.2 621.6,410.1 622.7,404.4 625.0,404.1 627.4,404.1 629.7,404.5 630.1,408.1 630.9,405.6 633.2,405.3 635.5,405.3 637.7,405.7 638.3,407.4 639.2,405.7 642.1,405.4 645.1,405.8 645.5,410.5 646.3,404.8 648.7,404.5 651.1,404.6 653.6,405.0 654.5,408.6 654.5,433.9 653.0,434.3 651.5,434.3 650.0,433.9 649.1,428.0 647.4,434.1 644.5,434.5 641.7,434.1 641.0,431.5 640.5,433.6 638.3,434.0 636.2,433.6 636.2,434.0 633.6,434.4 631.1,434.0 631.1,433.8 628.3,434.2 625.5,433.8 625.0,430.0 624.4,435.5 622.1,435.8 619.7,435.9 617.4,435.5 617.1,432.0 616.6,435.3 613.8,435.7 611.0,435.3 610.0,429.1 608.6,434.3 607.4,434.7 606.2,434.3 605.3,431.4 604.4,434.2 602.0,434.5 599.5,434.5 597.0,434.2 596.4,432.5 595.9,434.0 593.2,434.3 590.6,434.3 588.0,433.9 587.1,428.9 586.4,433.8 584.2,434.2 582.0,433.7 580.8,432.0 579.9,434.3 577.2,434.6 574.6,434.6 571.9,434.2 571.5,430.9 571.2,435.2 568.8,435.6 566.4,435.2 565.7,428.9 563.9,435.3 561.1,435.7 558.2,435.3 558.2,433.3 556.1,433.7 554.0,433.3 553.1,428.4 552.0,433.3 549.6,433.6 547.2,433.2 547.2,434.8 544.6,435.1 542.0,435.1 539.5,434.7 539.5,434.3 537.5,434.6 535.5,434.6 533.5,434.3 533.5,434.4 532.3,434.8 531.1,434.4 530.5,431.7 529.7,434.2 527.6,434.5 525.5,434.5 523.3,434.1 523.0,428.0 522.6,434.7 520.5,435.0 518.5,435.0 516.4,434.6 515.8,430.8 515.2,433.6 514.2,434.0 513.2,433.6 511.8,429.3 511.1,433.1 508.7,433.5 506.3,433.1 506.3,434.1 503.8,434.4 501.4,434.4 498.9,434.0 497.9,428.6 497.4,433.9 495.4,434.2 493.4,434.1 491.4,433.7 490.0,426.9 488.8,433.8 487.6,434.2 486.4,433.8 484.8,427.5 484.0,432.4 481.3,432.8 478.6,432.3 478.6,433.9 476.2,434.2 473.9,434.1 471.5,433.7 470.6,426.7 468.8,432.4 466.2,432.7 463.6,432.7 461.0,432.2 460.1,427.9 459.6,432.8 457.8,433.2 456.0,432.8 454.9,427.2 453.7,433.1 451.1,433.4 448.5,433.3 445.9,432.9 445.9,431.7 444.1,432.1 442.3,431.6 441.9,426.8 441.1,431.5 438.8,431.8 436.4,431.7 434.1,431.3 433.7,429.3 433.2,431.8 430.5,432.1 427.9,432.0 425.2,431.5 424.1,427.0 423.2,431.2 421.5,431.5 419.8,431.0 419.8,432.4 417.3,432.6 414.7,432.4 412.2,431.9 411.7,426.3 410.6,430.8 408.6,431.1 406.6,430.6 405.8,425.7 405.3,429.9 402.8,430.1 400.2,430.0 397.7,429.5 397.2,427.7 396.3,429.2 393.7,429.5 391.1,428.9 390.4,427.5 388.9,428.9 387.1,429.2 385.2,428.7 384.4,423.4 383.0,428.4 380.6,428.6 378.1,428.5 375.7,428.0 374.7,423.5 374.0,428.1 371.3,428.3 368.6,427.8 367.7,422.1 367.1,427.5 364.6,427.7 362.1,427.5 359.7,427.0 358.6,423.0 357.4,428.5 355.1,428.7 352.8,428.5 350.5,428.0 349.6,422.6 348.6,427.5 346.5,427.7 344.4,427.6 342.3,427.1 341.5,420.9 339.9,427.1 337.9,427.4 335.9,426.9 334.7,421.7 333.5,425.3 330.9,425.5 328.4,425.1 327.0,422.4 325.8,426.0 324.7,426.4 323.6,426.0 322.8,422.7 322.3,425.6 320.2,426.0 318.1,425.6 317.0,422.5 315.9,425.6 313.2,426.0 310.5,425.7 309.7,421.6 309.0,425.2 307.3,425.6 305.6,425.2 304.9,420.8 304.4,426.8 301.6,427.2 298.8,426.8 298.4,422.3 297.5,425.3 295.0,425.7 292.5,425.3 292.1,420.2 291.3,426.9 289.0,427.3 286.7,426.9 285.3,423.7 284.3,427.2 282.8,427.7 281.3,427.3 281.3,427.2 278.5,427.6 275.7,427.3 275.7,427.0 273.9,427.4 272.1,427.0 271.5,422.3 270.6,426.0 268.5,426.4 266.4,426.4 264.2,426.1 263.8,423.0 263.1,427.0 261.0,427.4 258.9,427.4 256.8,427.1 256.3,421.1 256.0,425.9 253.9,426.3 251.8,425.9 251.8,426.8 250.3,427.2 248.9,426.8 248.1,423.0 247.6,427.3 245.0,427.7 242.5,427.7 239.9,427.4 239.5,424.4 239.1,426.5 238.0,426.9 236.9,426.5 236.0,422.2 235.5,427.2 233.1,427.6 230.8,427.2 229.8,422.8 229.1,427.4 227.0,427.8 224.9,427.8 222.8,427.5 222.1,423.9 221.3,426.9 218.8,427.3 216.4,427.3 213.9,427.0 213.5,424.0 212.8,426.5 210.3,426.8 207.7,426.9 205.2,426.6 205.2,427.7 203.7,428.1 202.1,427.7 202.1,427.8 200.7,428.3 199.2,427.9 197.7,421.4 196.4,427.4 193.8,427.8 191.2,427.3 190.6,424.6 190.3,426.7 187.9,427.1 185.5,426.7 184.5,422.8 183.9,427.3 181.7,427.7 179.5,427.7 177.3,427.3 175.8,424.8 174.8,427.2 173.8,427.6 172.8,427.2 172.8,427.8 170.8,428.2 168.8,427.8 168.1,423.8 166.9,427.0 165.0,427.4 163.0,427.0 163.0,426.4 161.9,426.8 160.8,426.4 159.2,424.6 158.3,427.2 156.3,427.5 154.2,427.5 152.2,427.1 151.5,422.7 150.6,426.3 148.6,426.6 146.6,426.6 144.6,426.3 143.8,422.8 142.5,427.8 140.1,428.2 137.6,428.2 135.2,427.8 134.7,420.4 134.1,426.0 132.8,426.4 131.6,426.0 130.4,424.4 129.2,427.0 126.8,427.3 124.4,427.3 121.9,426.9 121.9,426.5 119.3,426.8 116.7,426.7 114.1,426.4 113.7,422.7 113.3,426.8 111.0,427.2 108.6,426.8 107.0,421.8 106.3,425.8 104.7,426.2 103.1,425.7 101.9,420.9 101.1,426.9 99.2,427.3 97.4,426.9" fill="#FF0080"/>
<line x1="131.80" y1="378.20" x2="336.50" y2="312.80" stroke="#C92EEB" stroke-width="1.8" />
<polyline points="327.5,309.3 338.4,312.3 330.2,320.2" fill="none" stroke="#C92EEB" stroke-width="2"/>
<line x1="399.70" y1="315.20" x2="612.00" y2="383.00" stroke="#EBBE14" stroke-width="1.8" />
<polyline points="602.2,386.8 613.6,383.5 606.0,374.8" fill="none" stroke="#EBBE14" stroke-width="2"/>
<rect x="97.40" y="278.00" width="557.10" height="185.50" fill="none" stroke="#222" stroke-width="1.8" />
<line x1="93.40" y1="463.50" x2="97.40" y2="463.50" stroke="#222" stroke-width="1.5" />
<line x1="93.40" y1="426.40" x2="97.40" y2="426.40" stroke="#222" stroke-width="1.5" />
<line x1="93.40" y1="389.30" x2="97.40" y2="389.30" stroke="#222" stroke-width="1.5" />
<line x1="93.40" y1="352.20" x2="97.40" y2="352.20" stroke="#222" stroke-width="1.5" />
<line x1="93.40" y1="315.10" x2="97.40" y2="315.10" stroke="#222" stroke-width="1.5" />
<line x1="93.40" y1="278.00" x2="97.40" y2="278.00" stroke="#222" stroke-width="1.5" />
<line x1="94.90" y1="444.95" x2="97.40" y2="444.95" stroke="#222" stroke-width="1.1" />
<line x1="94.90" y1="407.85" x2="97.40" y2="407.85" stroke="#222" stroke-width="1.1" />
<line x1="94.90" y1="370.75" x2="97.40" y2="370.75" stroke="#222" stroke-width="1.1" />
<line x1="94.90" y1="333.65" x2="97.40" y2="333.65" stroke="#222" stroke-width="1.1" />
<line x1="94.90" y1="296.55" x2="97.40" y2="296.55" stroke="#222" stroke-width="1.1" />
<line x1="97.40" y1="463.50" x2="97.40" y2="467.50" stroke="#222" stroke-width="1.5" />
<line x1="208.82" y1="463.50" x2="208.82" y2="467.50" stroke="#222" stroke-width="1.5" />
<line x1="320.24" y1="463.50" x2="320.24" y2="467.50" stroke="#222" stroke-width="1.5" />
<line x1="431.66" y1="463.50" x2="431.66" y2="467.50" stroke="#222" stroke-width="1.5" />
<line x1="543.08" y1="463.50" x2="543.08" y2="467.50" stroke="#222" stroke-width="1.5" />
<line x1="654.50" y1="463.50" x2="654.50" y2="467.50" stroke="#222" stroke-width="1.5" />
<line x1="153.11" y1="463.50" x2="153.11" y2="466.00" stroke="#222" stroke-width="1.1" />
<line x1="264.53" y1="463.50" x2="264.53" y2="466.00" stroke="#222" stroke-width="1.1" />
<line x1="375.95" y1="463.50" x2="375.95" y2="466.00" stroke="#222" stroke-width="1.1" />
<line x1="487.37" y1="463.50" x2="487.37" y2="466.00" stroke="#222" stroke-width="1.1" />
<line x1="598.79" y1="463.50" x2="598.79" y2="466.00" stroke="#222" stroke-width="1.1" />
<line x1="115.91" y1="691.50" x2="297.20" y2="555.30" stroke="#F0A56E" stroke-width="2.2" />
<line x1="115.91" y1="710.30" x2="297.20" y2="560.40" stroke="#0B800B" stroke-width="2.4" />
<rect x="110.71" y="687.50" width="10.40" height="10.40" fill="#FF8000" stroke="none" stroke-width="0" />
<rect x="170.67" y="634.60" width="10.40" height="10.40" fill="#FF8000" stroke="none" stroke-width="0" />
<rect x="219.03" y="599.10" width="10.40" height="10.40" fill="#FF8000" stroke="none" stroke-width="0" />
<rect x="257.71" y="572.70" width="10.40" height="10.40" fill="#FF8000" stroke="none" stroke-width="0" />
<rect x="292.52" y="555.40" width="10.40" height="10.40" fill="#FF8000" stroke="none" stroke-width="0" />
<line x1="115.91" y1="691.50" x2="297.20" y2="555.30" stroke="#F0A56E" stroke-width="2.0" opacity="0.5"/>
<circle cx="115.9" cy="710.3" r="5.6" fill="#0B800B"/>
<circle cx="175.9" cy="656.9" r="5.6" fill="#0B800B"/>
<circle cx="224.2" cy="622.1" r="5.6" fill="#0B800B"/>
<circle cx="262.9" cy="595.7" r="5.6" fill="#0B800B"/>
<circle cx="297.7" cy="560.4" r="5.6" fill="#0B800B"/>
<line x1="154.00" y1="642.00" x2="212.50" y2="599.50" stroke="#F0A56E" stroke-width="2.2" />
<polygon points="221.1,592.8 207.3,596.8 214.6,604.8" fill="#F0A56E"/>
<line x1="243.90" y1="625.50" x2="197.50" y2="662.50" stroke="#0B800B" stroke-width="2.2" />
<polygon points="188.0,670.1 193.9,657.7 202.6,666.4" fill="#0B800B"/>
<rect x="86.90" y="542.70" width="232.10" height="185.30" fill="none" stroke="#222" stroke-width="1.8" />
<line x1="82.90" y1="728.50" x2="86.90" y2="728.50" stroke="#222" stroke-width="1.5" />
<line x1="82.90" y1="675.40" x2="86.90" y2="675.40" stroke="#222" stroke-width="1.5" />
<line x1="82.90" y1="622.30" x2="86.90" y2="622.30" stroke="#222" stroke-width="1.5" />
<line x1="82.90" y1="569.20" x2="86.90" y2="569.20" stroke="#222" stroke-width="1.5" />
<line x1="84.40" y1="701.95" x2="86.90" y2="701.95" stroke="#222" stroke-width="1.1" />
<line x1="84.40" y1="648.85" x2="86.90" y2="648.85" stroke="#222" stroke-width="1.1" />
<line x1="84.40" y1="595.75" x2="86.90" y2="595.75" stroke="#222" stroke-width="1.1" />
<line x1="86.90" y1="728.00" x2="86.90" y2="732.00" stroke="#222" stroke-width="1.5" />
<line x1="125.58" y1="728.00" x2="125.58" y2="732.00" stroke="#222" stroke-width="1.5" />
<line x1="164.27" y1="728.00" x2="164.27" y2="732.00" stroke="#222" stroke-width="1.5" />
<line x1="202.95" y1="728.00" x2="202.95" y2="732.00" stroke="#222" stroke-width="1.5" />
<line x1="241.63" y1="728.00" x2="241.63" y2="732.00" stroke="#222" stroke-width="1.5" />
<line x1="280.32" y1="728.00" x2="280.32" y2="732.00" stroke="#222" stroke-width="1.5" />
<line x1="319.00" y1="728.00" x2="319.00" y2="732.00" stroke="#222" stroke-width="1.5" />
<line x1="106.24" y1="728.00" x2="106.24" y2="730.50" stroke="#222" stroke-width="1.1" />
<line x1="144.93" y1="728.00" x2="144.93" y2="730.50" stroke="#222" stroke-width="1.1" />
<line x1="183.61" y1="728.00" x2="183.61" y2="730.50" stroke="#222" stroke-width="1.1" />
<line x1="222.29" y1="728.00" x2="222.29" y2="730.50" stroke="#222" stroke-width="1.1" />
<line x1="260.98" y1="728.00" x2="260.98" y2="730.50" stroke="#222" stroke-width="1.1" />
<line x1="299.66" y1="728.00" x2="299.66" y2="730.50" stroke="#222" stroke-width="1.1" />
<polyline points="437.0,714.0 437.1,711.8 437.3,708.5 437.4,704.8 437.5,700.8 437.7,696.5 437.8,692.2 437.9,687.8 438.1,683.5 438.2,679.3 438.4,675.2 438.5,671.3 438.6,667.8 438.8,664.5 438.9,661.6 439.0,659.1 439.2,656.9 439.3,655.3 439.4,654.1 439.6,653.3 439.7,653.1 439.8,653.3 440.0,654.1 440.1,655.3 440.2,656.9 440.4,659.1 440.5,661.6 440.6,664.5 440.8,667.8 440.9,671.3 441.0,675.2 441.2,679.3 441.3,683.5 441.5,687.8 441.6,692.2 441.7,696.5 441.9,700.8 442.0,704.8 442.1,708.5 442.3,711.8 442.4,714.0 442.4,714.0 442.5,711.7 442.7,708.4 442.8,704.5 442.9,700.4 443.1,696.0 443.2,691.5 443.3,687.0 443.5,682.6 443.6,678.2 443.7,674.0 443.9,670.1 444.0,666.4 444.1,663.0 444.3,660.0 444.4,657.4 444.5,655.3 444.7,653.5 444.8,652.3 444.9,651.6 445.1,651.3 445.2,651.6 445.3,652.3 445.5,653.5 445.6,655.3 445.7,657.4 445.9,660.0 446.0,663.0 446.1,666.4 446.3,670.1 446.4,674.0 446.5,678.2 446.7,682.6 446.8,687.0 446.9,691.5 447.1,696.0 447.2,700.4 447.3,704.5 447.5,708.4 447.6,711.7 447.8,714.0 447.8,714.0 447.9,711.7 448.0,708.4 448.1,704.6 448.3,700.5 448.4,696.2 448.5,691.8 448.7,687.3 448.8,682.9 448.9,678.6 449.1,674.5 449.2,670.6 449.3,666.9 449.4,663.6 449.6,660.6 449.7,658.1 449.8,655.9 450.0,654.2 450.1,653.0 450.2,652.2 450.4,652.0 450.5,652.2 450.6,653.0 450.7,654.2 450.9,655.9 451.0,658.1 451.1,660.6 451.3,663.6 451.4,666.9 451.5,670.6 451.6,674.5 451.8,678.6 451.9,682.9 452.0,687.3 452.2,691.8 452.3,696.2 452.4,700.5 452.6,704.6 452.7,708.4 452.8,711.7 452.9,714.0 452.9,714.0 453.1,711.7 453.2,708.3 453.4,704.4 453.5,700.2 453.6,695.8 453.8,691.3 453.9,686.7 454.0,682.2 454.2,677.8 454.3,673.5 454.4,669.5 454.6,665.8 454.7,662.4 454.9,659.3 455.0,656.7 455.1,654.5 455.3,652.8 455.4,651.5 455.5,650.8 455.7,650.5 455.8,650.8 455.9,651.5 456.1,652.8 456.2,654.5 456.4,656.7 456.5,659.3 456.6,662.4 456.8,665.8 456.9,669.5 457.0,673.5 457.2,677.8 457.3,682.2 457.4,686.7 457.6,691.3 457.7,695.8 457.9,700.2 458.0,704.4 458.1,708.3 458.3,711.7 458.4,714.0 458.4,714.0 458.5,711.5 458.6,707.9 458.7,703.7 458.9,699.2 459.0,694.4 459.1,689.6 459.2,684.7 459.3,679.8 459.4,675.1 459.5,670.5 459.7,666.2 459.8,662.2 459.9,658.6 460.0,655.3 460.1,652.5 460.2,650.1 460.4,648.2 460.5,646.9 460.6,646.1 460.7,645.8 460.8,646.1 460.9,646.9 461.0,648.2 461.2,650.1 461.3,652.5 461.4,655.3 461.5,658.6 461.6,662.2 461.7,666.2 461.9,670.5 462.0,675.1 462.1,679.8 462.2,684.7 462.3,689.6 462.4,694.4 462.5,699.2 462.7,703.7 462.8,707.9 462.9,711.5 463.0,714.0" fill="none" stroke="#85851A" stroke-width="1.8" stroke-linejoin="round"/>
<polygon points="438.4,675.2 438.5,671.3 438.6,667.8 438.8,664.5 438.9,661.6 439.0,659.1 439.2,656.9 439.3,655.3 439.4,654.1 439.6,653.3 439.7,653.1 439.8,653.3 440.0,654.1 440.1,655.3 440.2,656.9 440.4,659.1 440.5,661.6 440.6,664.5 440.8,667.8 440.9,671.3 441.0,675.2" fill="#85851A"/>
<polygon points="443.7,674.0 443.9,670.1 444.0,666.4 444.1,663.0 444.3,660.0 444.4,657.4 444.5,655.3 444.7,653.5 444.8,652.3 444.9,651.6 445.1,651.3 445.2,651.6 445.3,652.3 445.5,653.5 445.6,655.3 445.7,657.4 445.9,660.0 446.0,663.0 446.1,666.4 446.3,670.1 446.4,674.0" fill="#85851A"/>
<polygon points="449.1,674.5 449.2,670.6 449.3,666.9 449.4,663.6 449.6,660.6 449.7,658.1 449.8,655.9 450.0,654.2 450.1,653.0 450.2,652.2 450.4,652.0 450.5,652.2 450.6,653.0 450.7,654.2 450.9,655.9 451.0,658.1 451.1,660.6 451.3,663.6 451.4,666.9 451.5,670.6 451.6,674.5" fill="#85851A"/>
<polygon points="454.3,673.5 454.4,669.5 454.6,665.8 454.7,662.4 454.9,659.3 455.0,656.7 455.1,654.5 455.3,652.8 455.4,651.5 455.5,650.8 455.7,650.5 455.8,650.8 455.9,651.5 456.1,652.8 456.2,654.5 456.4,656.7 456.5,659.3 456.6,662.4 456.8,665.8 456.9,669.5 457.0,673.5" fill="#85851A"/>
<polygon points="459.7,666.2 459.8,662.2 459.9,658.6 460.0,655.3 460.1,652.5 460.2,650.1 460.4,648.2 460.5,646.9 460.6,646.1 460.7,645.8 460.8,646.1 460.9,646.9 461.0,648.2 461.2,650.1 461.3,652.5 461.4,655.3 461.5,658.6 461.6,662.2 461.7,666.2" fill="#85851A"/>
<polyline points="462.2,684.5 462.6,713.2 462.9,683.9 463.3,713.2 463.6,682.6 464.0,711.0 464.3,682.7 464.7,711.6 465.0,683.7 465.4,713.4 465.7,684.4 466.1,713.2 466.4,684.6 466.8,711.4 467.1,683.6 467.5,712.3 467.8,682.5 468.2,711.7" fill="none" stroke="#85851A" stroke-width="1.2"/>
<polyline points="467.9,683.7 468.3,710.3 468.6,685.9 469.0,709.9 469.3,683.9 469.7,709.8 470.0,685.4 470.4,710.8 470.7,685.5 471.1,710.2 471.4,684.6 471.8,710.3 472.1,684.3 472.5,710.9" fill="none" stroke="#0000FF" stroke-width="1.2"/>
<polyline points="471.8,709.8 471.9,707.0 472.1,703.0 472.2,698.3 472.4,693.3 472.5,688.0 472.7,682.5 472.8,677.1 473.0,671.7 473.1,666.4 473.3,661.3 473.4,656.5 473.6,652.0 473.7,647.9 473.9,644.3 474.0,641.1 474.2,638.5 474.3,636.4 474.5,634.9 474.6,634.0 474.8,633.7 474.9,634.0 475.1,634.9 475.2,636.4 475.4,638.5 475.5,641.1 475.7,644.3 475.8,647.9 476.0,652.0 476.1,656.5 476.3,661.3 476.4,666.4 476.6,671.7 476.7,677.1 476.9,682.5 477.0,688.0 477.2,693.3 477.3,698.3 477.5,703.0 477.6,707.0 477.8,709.8 477.8,709.8 477.9,707.0 478.1,702.9 478.2,698.1 478.4,693.0 478.5,687.6 478.7,682.1 478.8,676.5 479.0,671.0 479.1,665.6 479.3,660.5 479.4,655.6 479.6,651.0 479.7,646.9 479.9,643.2 480.0,640.0 480.2,637.3 480.3,635.2 480.5,633.6 480.6,632.7 480.8,632.4 481.0,632.7 481.1,633.6 481.3,635.2 481.4,637.3 481.6,640.0 481.7,643.2 481.9,646.9 482.0,651.0 482.2,655.6 482.3,660.5 482.5,665.6 482.6,671.0 482.8,676.5 482.9,682.1 483.1,687.6 483.2,693.0 483.4,698.1 483.5,702.9 483.7,707.0 483.9,709.8 483.9,709.8 484.0,706.9 484.1,702.8 484.3,697.9 484.4,692.7 484.6,687.3 484.7,681.6 484.9,676.0 485.0,670.4 485.2,665.0 485.3,659.7 485.5,654.7 485.6,650.1 485.8,645.9 485.9,642.2 486.1,638.9 486.2,636.2 486.4,634.0 486.5,632.5 486.7,631.5 486.8,631.2 486.9,631.5 487.1,632.5 487.2,634.0 487.4,636.2 487.5,638.9 487.7,642.2 487.8,645.9 488.0,650.1 488.1,654.7 488.3,659.7 488.4,665.0 488.6,670.4 488.7,676.0 488.9,681.6 489.0,687.3 489.2,692.7 489.3,697.9 489.5,702.8 489.6,706.9 489.8,709.8 489.8,709.8 489.9,706.9 490.0,702.8 490.2,698.0 490.3,692.8 490.5,687.3 490.6,681.8 490.8,676.1 490.9,670.6 491.1,665.1 491.2,659.9 491.4,655.0 491.5,650.4 491.7,646.2 491.8,642.4 492.0,639.2 492.1,636.4 492.3,634.3 492.4,632.8 492.6,631.8 492.7,631.5 492.8,631.8 493.0,632.8 493.1,634.3 493.3,636.4 493.4,639.2 493.6,642.4 493.7,646.2 493.9,650.4 494.0,655.0 494.2,659.9 494.3,665.1 494.5,670.6 494.6,676.1 494.8,681.8 494.9,687.3 495.1,692.8 495.2,698.0 495.4,702.8 495.5,706.9 495.6,709.8 495.6,709.8 495.8,707.0 495.9,702.9 496.1,698.2 496.2,693.1 496.4,687.8 496.5,682.3 496.7,676.8 496.8,671.4 497.0,666.0 497.1,660.9 497.3,656.1 497.4,651.6 497.6,647.5 497.7,643.8 497.8,640.6 498.0,637.9 498.1,635.8 498.3,634.3 498.4,633.4 498.6,633.1 498.7,633.4 498.9,634.3 499.0,635.8 499.2,637.9 499.3,640.6 499.5,643.8 499.6,647.5 499.7,651.6 499.9,656.1 500.0,660.9 500.2,666.0 500.3,671.4 500.5,676.8 500.6,682.3 500.8,687.8 500.9,693.1 501.1,698.2 501.2,702.9 501.4,707.0 501.5,709.8" fill="none" stroke="#0000FF" stroke-width="2.1" stroke-linejoin="round"/>
<polygon points="473.4,656.5 473.6,652.0 473.7,647.9 473.9,644.3 474.0,641.1 474.2,638.5 474.3,636.4 474.5,634.9 474.6,634.0 474.8,633.7 474.9,634.0 475.1,634.9 475.2,636.4 475.4,638.5 475.5,641.1 475.7,644.3 475.8,647.9 476.0,652.0 476.1,656.5" fill="#0000FF"/>
<polygon points="479.4,655.6 479.6,651.0 479.7,646.9 479.9,643.2 480.0,640.0 480.2,637.3 480.3,635.2 480.5,633.6 480.6,632.7 480.8,632.4 481.0,632.7 481.1,633.6 481.3,635.2 481.4,637.3 481.6,640.0 481.7,643.2 481.9,646.9 482.0,651.0 482.2,655.6" fill="#0000FF"/>
<polygon points="485.5,654.7 485.6,650.1 485.8,645.9 485.9,642.2 486.1,638.9 486.2,636.2 486.4,634.0 486.5,632.5 486.7,631.5 486.8,631.2 486.9,631.5 487.1,632.5 487.2,634.0 487.4,636.2 487.5,638.9 487.7,642.2 487.8,645.9 488.0,650.1 488.1,654.7" fill="#0000FF"/>
<polygon points="491.4,655.0 491.5,650.4 491.7,646.2 491.8,642.4 492.0,639.2 492.1,636.4 492.3,634.3 492.4,632.8 492.6,631.8 492.7,631.5 492.8,631.8 493.0,632.8 493.1,634.3 493.3,636.4 493.4,639.2 493.6,642.4 493.7,646.2 493.9,650.4 494.0,655.0" fill="#0000FF"/>
<polygon points="497.3,656.1 497.4,651.6 497.6,647.5 497.7,643.8 497.8,640.6 498.0,637.9 498.1,635.8 498.3,634.3 498.4,633.4 498.6,633.1 498.7,633.4 498.9,634.3 499.0,635.8 499.2,637.9 499.3,640.6 499.5,643.8 499.6,647.5 499.7,651.6 499.9,656.1" fill="#0000FF"/>
<polyline points="500.6,680.9 501.0,707.1 501.3,680.6 501.7,707.1 502.0,679.2 502.4,708.0 502.7,681.1 503.1,706.1 503.4,681.2 503.8,706.5 504.1,678.9 504.5,707.6 504.8,678.8 505.2,706.5 505.5,680.3 505.9,705.6" fill="none" stroke="#0000FF" stroke-width="1.2"/>
<polyline points="506.0,680.0 506.4,709.2 506.7,679.9 507.1,709.4 507.4,679.4 507.8,708.6 508.1,680.3 508.5,708.9 508.8,681.7 509.2,709.0 509.5,681.4 509.9,708.5 510.2,679.6 510.6,709.7 510.9,680.8 511.3,707.6" fill="none" stroke="#6A0A8A" stroke-width="1.2"/>
<polyline points="511.0,709.4 511.2,705.9 511.4,700.7 511.5,694.8 511.7,688.3 511.9,681.6 512.1,674.7 512.3,667.7 512.4,660.8 512.6,654.1 512.8,647.6 513.0,641.5 513.1,635.8 513.3,630.6 513.5,626.0 513.7,622.0 513.9,618.6 514.0,616.0 514.2,614.0 514.4,612.9 514.6,612.5 514.8,612.9 514.9,614.0 515.1,616.0 515.3,618.6 515.5,622.0 515.6,626.0 515.8,630.6 516.0,635.8 516.2,641.5 516.4,647.6 516.5,654.1 516.7,660.8 516.9,667.7 517.1,674.7 517.3,681.6 517.4,688.3 517.6,694.8 517.8,700.7 518.0,705.9 518.2,709.4 518.2,709.4 518.3,705.9 518.5,700.7 518.7,694.8 518.9,688.3 519.0,681.6 519.2,674.7 519.4,667.7 519.6,660.8 519.8,654.1 519.9,647.6 520.1,641.5 520.3,635.8 520.5,630.6 520.7,626.0 520.8,622.0 521.0,618.6 521.2,616.0 521.4,614.0 521.5,612.9 521.7,612.5 521.9,612.9 522.1,614.0 522.3,616.0 522.4,618.6 522.6,622.0 522.8,626.0 523.0,630.6 523.2,635.8 523.3,641.5 523.5,647.6 523.7,654.1 523.9,660.8 524.0,667.7 524.2,674.7 524.4,681.6 524.6,688.3 524.8,694.8 524.9,700.7 525.1,705.9 525.3,709.4 525.3,709.4 525.5,705.9 525.7,700.8 525.9,694.9 526.0,688.5 526.2,681.7 526.4,674.9 526.6,667.9 526.8,661.1 527.0,654.4 527.1,648.0 527.3,641.9 527.5,636.2 527.7,631.0 527.9,626.4 528.1,622.4 528.2,619.1 528.4,616.4 528.6,614.5 528.8,613.4 529.0,613.0 529.2,613.4 529.3,614.5 529.5,616.4 529.7,619.1 529.9,622.4 530.1,626.4 530.3,631.0 530.4,636.2 530.6,641.9 530.8,648.0 531.0,654.4 531.2,661.1 531.4,667.9 531.5,674.9 531.7,681.7 531.9,688.5 532.1,694.9 532.3,700.8 532.5,705.9 532.6,709.4 532.6,709.4 532.8,705.9 533.0,700.8 533.2,694.9 533.4,688.6 533.6,681.9 533.8,675.0 533.9,668.2 534.1,661.3 534.3,654.7 534.5,648.3 534.7,642.2 534.9,636.6 535.1,631.5 535.2,626.9 535.4,622.9 535.6,619.6 535.8,616.9 536.0,615.0 536.2,613.9 536.3,613.5 536.5,613.9 536.7,615.0 536.9,616.9 537.1,619.6 537.3,622.9 537.5,626.9 537.6,631.5 537.8,636.6 538.0,642.2 538.2,648.3 538.4,654.7 538.6,661.3 538.8,668.2 538.9,675.0 539.1,681.9 539.3,688.6 539.5,694.9 539.7,700.8 539.9,705.9 540.0,709.4 540.0,709.4 540.2,705.9 540.4,700.9 540.6,695.0 540.8,688.7 541.0,682.1 541.2,675.3 541.4,668.5 541.5,661.7 541.7,655.1 541.9,648.7 542.1,642.7 542.3,637.1 542.5,632.0 542.7,627.5 542.8,623.5 543.0,620.2 543.2,617.6 543.4,615.7 543.6,614.6 543.8,614.2 544.0,614.6 544.1,615.7 544.3,617.6 544.5,620.2 544.7,623.5 544.9,627.5 545.1,632.0 545.3,637.1 545.5,642.7 545.6,648.7 545.8,655.1 546.0,661.7 546.2,668.5 546.4,675.3 546.6,682.1 546.8,688.7 546.9,695.0 547.1,700.9 547.3,705.9 547.5,709.4" fill="none" stroke="#6A0A8A" stroke-width="2.1" stroke-linejoin="round"/>
<polygon points="513.1,635.8 513.3,630.6 513.5,626.0 513.7,622.0 513.9,618.6 514.0,616.0 514.2,614.0 514.4,612.9 514.6,612.5 514.8,612.9 514.9,614.0 515.1,616.0 515.3,618.6 515.5,622.0 515.6,626.0 515.8,630.6 516.0,635.8" fill="#6A0A8A"/>
<polygon points="520.3,635.8 520.5,630.6 520.7,626.0 520.8,622.0 521.0,618.6 521.2,616.0 521.4,614.0 521.5,612.9 521.7,612.5 521.9,612.9 522.1,614.0 522.3,616.0 522.4,618.6 522.6,622.0 522.8,626.0 523.0,630.6 523.2,635.8" fill="#6A0A8A"/>
<polygon points="527.5,636.2 527.7,631.0 527.9,626.4 528.1,622.4 528.2,619.1 528.4,616.4 528.6,614.5 528.8,613.4 529.0,613.0 529.2,613.4 529.3,614.5 529.5,616.4 529.7,619.1 529.9,622.4 530.1,626.4 530.3,631.0 530.4,636.2" fill="#6A0A8A"/>
<polygon points="534.9,636.6 535.1,631.5 535.2,626.9 535.4,622.9 535.6,619.6 535.8,616.9 536.0,615.0 536.2,613.9 536.3,613.5 536.5,613.9 536.7,615.0 536.9,616.9 537.1,619.6 537.3,622.9 537.5,626.9 537.6,631.5 537.8,636.6" fill="#6A0A8A"/>
<polygon points="542.3,637.1 542.5,632.0 542.7,627.5 542.8,623.5 543.0,620.2 543.2,617.6 543.4,615.7 543.6,614.6 543.8,614.2 544.0,614.6 544.1,615.7 544.3,617.6 544.5,620.2 544.7,623.5 544.9,627.5 545.1,632.0 545.3,637.1" fill="#6A0A8A"/>
<polyline points="546.7,684.4 547.1,711.9 547.4,684.9 547.8,712.0 548.1,686.4 548.5,711.9 548.8,684.9 549.2,713.3 549.5,686.7 549.9,711.4 550.2,686.6 550.6,712.3 550.9,684.4 551.3,712.8 551.6,686.6 552.0,713.5" fill="none" stroke="#6A0A8A" stroke-width="1.2"/>
<polyline points="552.0,687.7 552.4,714.5 552.7,689.2 553.1,713.7 553.4,687.2 553.8,713.7 554.1,687.5 554.5,713.5 554.8,688.5 555.2,713.0 555.5,687.2 555.9,713.3 556.2,687.1 556.6,713.5" fill="none" stroke="#FF860A" stroke-width="1.2"/>
<polyline points="555.5,714.6 555.7,710.5 555.9,704.5 556.1,697.6 556.4,690.2 556.6,682.3 556.8,674.3 557.0,666.2 557.2,658.2 557.4,650.4 557.6,642.9 557.8,635.8 558.0,629.2 558.3,623.2 558.5,617.8 558.7,613.1 558.9,609.2 559.1,606.1 559.3,603.9 559.5,602.6 559.8,602.1 560.0,602.6 560.2,603.9 560.4,606.1 560.6,609.2 560.8,613.1 561.0,617.8 561.2,623.2 561.5,629.2 561.7,635.8 561.9,642.9 562.1,650.4 562.3,658.2 562.5,666.2 562.7,674.3 562.9,682.3 563.1,690.2 563.4,697.6 563.6,704.5 563.8,710.5 564.0,714.6 564.0,714.6 564.2,710.5 564.4,704.5 564.6,697.7 564.8,690.2 565.1,682.4 565.3,674.4 565.5,666.4 565.7,658.4 565.9,650.6 566.1,643.2 566.3,636.1 566.5,629.5 566.7,623.5 567.0,618.1 567.2,613.5 567.4,609.6 567.6,606.5 567.8,604.3 568.0,602.9 568.2,602.5 568.4,602.9 568.6,604.3 568.9,606.5 569.1,609.6 569.3,613.5 569.5,618.1 569.7,623.5 569.9,629.5 570.1,636.1 570.3,643.2 570.5,650.6 570.8,658.4 571.0,666.4 571.2,674.4 571.4,682.4 571.6,690.2 571.8,697.7 572.0,704.5 572.2,710.5 572.5,714.6 572.5,714.6 572.7,710.5 572.9,704.6 573.1,697.8 573.3,690.4 573.5,682.6 573.7,674.6 573.9,666.6 574.1,658.7 574.3,650.9 574.5,643.5 574.7,636.4 574.9,629.9 575.1,623.9 575.3,618.5 575.5,613.9 575.8,610.0 576.0,607.0 576.2,604.8 576.4,603.4 576.6,603.0 576.8,603.4 577.0,604.8 577.2,607.0 577.4,610.0 577.6,613.9 577.8,618.5 578.0,623.9 578.2,629.9 578.4,636.4 578.6,643.5 578.8,650.9 579.1,658.7 579.3,666.6 579.5,674.6 579.7,682.6 579.9,690.4 580.1,697.8 580.3,704.6 580.5,710.5 580.7,714.6 580.7,714.6 580.9,710.5 581.1,704.6 581.3,697.8 581.6,690.5 581.8,682.7 582.0,674.8 582.2,666.8 582.4,658.9 582.6,651.2 582.9,643.8 583.1,636.8 583.3,630.3 583.5,624.3 583.7,619.0 583.9,614.4 584.2,610.5 584.4,607.5 584.6,605.3 584.8,603.9 585.0,603.5 585.2,603.9 585.5,605.3 585.7,607.5 585.9,610.5 586.1,614.4 586.3,619.0 586.5,624.3 586.8,630.3 587.0,636.8 587.2,643.8 587.4,651.2 587.6,658.9 587.8,666.8 588.1,674.8 588.3,682.7 588.5,690.5 588.7,697.8 588.9,704.6 589.1,710.5 589.3,714.6 589.3,714.6 589.6,710.5 589.8,704.6 590.0,697.8 590.2,690.5 590.4,682.7 590.6,674.8 590.9,666.8 591.1,658.9 591.3,651.2 591.5,643.8 591.7,636.8 591.9,630.3 592.2,624.3 592.4,619.0 592.6,614.4 592.8,610.5 593.0,607.5 593.2,605.3 593.5,603.9 593.7,603.5 593.9,603.9 594.1,605.3 594.3,607.5 594.5,610.5 594.8,614.4 595.0,619.0 595.2,624.3 595.4,630.3 595.6,636.8 595.8,643.8 596.1,651.2 596.3,658.9 596.5,666.8 596.7,674.8 596.9,682.7 597.1,690.5 597.4,697.8 597.6,704.6 597.8,710.5 598.0,714.6" fill="none" stroke="#FF860A" stroke-width="2.2" stroke-linejoin="round"/>
<polygon points="558.3,623.2 558.5,617.8 558.7,613.1 558.9,609.2 559.1,606.1 559.3,603.9 559.5,602.6 559.8,602.1 560.0,602.6 560.2,603.9 560.4,606.1 560.6,609.2 560.8,613.1 561.0,617.8 561.2,623.2" fill="#FF860A"/>
<polygon points="566.7,623.5 567.0,618.1 567.2,613.5 567.4,609.6 567.6,606.5 567.8,604.3 568.0,602.9 568.2,602.5 568.4,602.9 568.6,604.3 568.9,606.5 569.1,609.6 569.3,613.5 569.5,618.1 569.7,623.5" fill="#FF860A"/>
<polygon points="575.1,623.9 575.3,618.5 575.5,613.9 575.8,610.0 576.0,607.0 576.2,604.8 576.4,603.4 576.6,603.0 576.8,603.4 577.0,604.8 577.2,607.0 577.4,610.0 577.6,613.9 577.8,618.5 578.0,623.9" fill="#FF860A"/>
<polygon points="583.5,624.3 583.7,619.0 583.9,614.4 584.2,610.5 584.4,607.5 584.6,605.3 584.8,603.9 585.0,603.5 585.2,603.9 585.5,605.3 585.7,607.5 585.9,610.5 586.1,614.4 586.3,619.0 586.5,624.3" fill="#FF860A"/>
<polygon points="592.2,624.3 592.4,619.0 592.6,614.4 592.8,610.5 593.0,607.5 593.2,605.3 593.5,603.9 593.7,603.5 593.9,603.9 594.1,605.3 594.3,607.5 594.5,610.5 594.8,614.4 595.0,619.0 595.2,624.3" fill="#FF860A"/>
<polyline points="596.9,689.7 597.3,717.3 597.6,689.8 598.0,717.4 598.3,688.7 598.7,716.0 599.0,687.7 599.4,716.6 599.7,689.0 600.1,716.2 600.4,690.1 600.8,716.3 601.1,688.3 601.5,717.5 601.8,688.9 602.2,717.3 602.5,689.1 602.9,717.8" fill="none" stroke="#FF860A" stroke-width="1.2"/>
<polyline points="603.0,691.7 603.4,717.0 603.7,690.1 604.1,717.7 604.4,692.3 604.8,715.9 605.1,692.2 605.5,717.0 605.8,692.5 606.2,717.6 606.5,691.8 606.9,715.6 607.2,690.5 607.6,718.0 607.9,690.3 608.3,717.8" fill="none" stroke="#FF0A0A" stroke-width="1.2"/>
<polyline points="607.5,717.8 607.8,712.8 608.0,705.7 608.3,697.4 608.5,688.4 608.8,678.9 609.1,669.3 609.3,659.5 609.6,649.9 609.8,640.5 610.1,631.4 610.3,622.9 610.6,614.9 610.9,607.7 611.1,601.2 611.4,595.6 611.6,590.9 611.9,587.1 612.2,584.5 612.4,582.8 612.7,582.3 612.9,582.8 613.2,584.5 613.5,587.1 613.7,590.9 614.0,595.6 614.2,601.2 614.5,607.7 614.7,614.9 615.0,622.9 615.3,631.4 615.5,640.5 615.8,649.9 616.0,659.5 616.3,669.3 616.6,678.9 616.8,688.4 617.1,697.4 617.3,705.7 617.6,712.8 617.9,717.8 617.9,717.8 618.1,712.9 618.4,705.7 618.6,697.4 618.9,688.4 619.1,679.0 619.4,669.3 619.7,659.6 619.9,650.0 620.2,640.6 620.4,631.6 620.7,623.0 620.9,615.1 621.2,607.8 621.5,601.3 621.7,595.7 622.0,591.0 622.2,587.3 622.5,584.7 622.7,583.0 623.0,582.5 623.3,583.0 623.5,584.7 623.8,587.3 624.0,591.0 624.3,595.7 624.5,601.3 624.8,607.8 625.1,615.1 625.3,623.0 625.6,631.6 625.8,640.6 626.1,650.0 626.3,659.6 626.6,669.3 626.9,679.0 627.1,688.4 627.4,697.4 627.6,705.7 627.9,712.9 628.1,717.8 628.1,717.8 628.4,712.9 628.7,705.7 628.9,697.5 629.2,688.5 629.4,679.1 629.7,669.5 630.0,659.8 630.2,650.2 630.5,640.9 630.7,631.9 631.0,623.4 631.3,615.5 631.5,608.2 631.8,601.8 632.0,596.2 632.3,591.5 632.5,587.8 632.8,585.2 633.1,583.5 633.3,583.0 633.6,583.5 633.8,585.2 634.1,587.8 634.4,591.5 634.6,596.2 634.9,601.8 635.1,608.2 635.4,615.5 635.7,623.4 635.9,631.9 636.2,640.9 636.4,650.2 636.7,659.8 636.9,669.5 637.2,679.1 637.5,688.5 637.7,697.5 638.0,705.7 638.2,712.9 638.5,717.8 638.5,717.8 638.8,712.9 639.0,705.8 639.3,697.5 639.6,688.6 639.8,679.3 640.1,669.7 640.3,660.0 640.6,650.5 640.9,641.2 641.1,632.2 641.4,623.7 641.7,615.8 641.9,608.6 642.2,602.2 642.5,596.6 642.7,592.0 643.0,588.3 643.2,585.6 643.5,584.0 643.8,583.5 644.0,584.0 644.3,585.6 644.6,588.3 644.8,592.0 645.1,596.6 645.4,602.2 645.6,608.6 645.9,615.8 646.1,623.7 646.4,632.2 646.7,641.2 646.9,650.5 647.2,660.0 647.5,669.7 647.7,679.3 648.0,688.6 648.3,697.5 648.5,705.8 648.8,712.9 649.0,717.8 649.0,717.8 649.3,712.9 649.6,705.7 649.8,697.4 650.1,688.4 650.4,679.0 650.6,669.3 650.9,659.6 651.1,650.0 651.4,640.6 651.7,631.6 651.9,623.0 652.2,615.1 652.4,607.8 652.7,601.3 653.0,595.7 653.2,591.0 653.5,587.3 653.8,584.7 654.0,583.0 654.3,582.5 654.5,583.0 654.8,584.7 655.1,587.3 655.3,591.0 655.6,595.7 655.8,601.3 656.1,607.8 656.4,615.1 656.6,623.0 656.9,631.6 657.1,640.6 657.4,650.0 657.7,659.6 657.9,669.3 658.2,679.0 658.5,688.4 658.7,697.4 659.0,705.7 659.2,712.9 659.5,717.8" fill="none" stroke="#FF0A0A" stroke-width="2.2" stroke-linejoin="round"/>
<polygon points="610.9,607.7 611.1,601.2 611.4,595.6 611.6,590.9 611.9,587.1 612.2,584.5 612.4,582.8 612.7,582.3 612.9,582.8 613.2,584.5 613.5,587.1 613.7,590.9 614.0,595.6 614.2,601.2 614.5,607.7" fill="#FF0A0A"/>
<polygon points="621.2,607.8 621.5,601.3 621.7,595.7 622.0,591.0 622.2,587.3 622.5,584.7 622.7,583.0 623.0,582.5 623.3,583.0 623.5,584.7 623.8,587.3 624.0,591.0 624.3,595.7 624.5,601.3 624.8,607.8" fill="#FF0A0A"/>
<polygon points="631.5,608.2 631.8,601.8 632.0,596.2 632.3,591.5 632.5,587.8 632.8,585.2 633.1,583.5 633.3,583.0 633.6,583.5 633.8,585.2 634.1,587.8 634.4,591.5 634.6,596.2 634.9,601.8 635.1,608.2" fill="#FF0A0A"/>
<polygon points="641.9,608.6 642.2,602.2 642.5,596.6 642.7,592.0 643.0,588.3 643.2,585.6 643.5,584.0 643.8,583.5 644.0,584.0 644.3,585.6 644.6,588.3 644.8,592.0 645.1,596.6 645.4,602.2 645.6,608.6" fill="#FF0A0A"/>
<polygon points="652.4,607.8 652.7,601.3 653.0,595.7 653.2,591.0 653.5,587.3 653.8,584.7 654.0,583.0 654.3,582.5 654.5,583.0 654.8,584.7 655.1,587.3 655.3,591.0 655.6,595.7 655.8,601.3 656.1,607.8" fill="#FF0A0A"/>
<polyline points="658.5,692.0 658.9,719.4 659.2,691.2 659.6,720.6 659.9,691.6 660.3,720.6 660.6,690.3 661.0,719.4 661.3,691.6 661.7,718.9 662.0,692.1 662.4,720.6 662.7,690.8 663.1,720.5 663.4,691.2 663.8,720.8 664.1,692.2 664.5,719.2 664.8,692.0 665.2,719.7 665.5,692.3 665.9,718.8 666.2,692.1 666.6,718.9 666.9,690.5 667.3,720.0 667.6,690.1 668.0,719.0 668.3,691.2 668.7,718.4" fill="none" stroke="#FF0A0A" stroke-width="1.2"/>
<line x1="441.30" y1="556.00" x2="457.90" y2="556.00" stroke="#FF0A0A" stroke-width="2.2" />
<line x1="530.60" y1="556.00" x2="547.70" y2="556.00" stroke="#FF860A" stroke-width="2.2" />
<line x1="441.30" y1="585.70" x2="457.90" y2="585.70" stroke="#6A0A8A" stroke-width="2.2" />
<line x1="530.60" y1="585.70" x2="547.70" y2="585.70" stroke="#0000FF" stroke-width="2.2" />
<line x1="441.30" y1="613.20" x2="457.90" y2="613.20" stroke="#85851A" stroke-width="2.2" />
<rect x="436.80" y="542.80" width="232.50" height="184.90" fill="none" stroke="#222" stroke-width="1.8" />
<line x1="432.80" y1="711.30" x2="436.80" y2="711.30" stroke="#222" stroke-width="1.5" />
<line x1="432.80" y1="661.00" x2="436.80" y2="661.00" stroke="#222" stroke-width="1.5" />
<line x1="432.80" y1="610.70" x2="436.80" y2="610.70" stroke="#222" stroke-width="1.5" />
<line x1="432.80" y1="560.40" x2="436.80" y2="560.40" stroke="#222" stroke-width="1.5" />
<line x1="434.30" y1="686.15" x2="436.80" y2="686.15" stroke="#222" stroke-width="1.1" />
<line x1="434.30" y1="635.85" x2="436.80" y2="635.85" stroke="#222" stroke-width="1.1" />
<line x1="434.30" y1="585.55" x2="436.80" y2="585.55" stroke="#222" stroke-width="1.1" />
<line x1="436.80" y1="727.70" x2="436.80" y2="731.70" stroke="#222" stroke-width="1.5" />
<line x1="494.93" y1="727.70" x2="494.93" y2="731.70" stroke="#222" stroke-width="1.5" />
<line x1="553.05" y1="727.70" x2="553.05" y2="731.70" stroke="#222" stroke-width="1.5" />
<line x1="611.17" y1="727.70" x2="611.17" y2="731.70" stroke="#222" stroke-width="1.5" />
<line x1="669.30" y1="727.70" x2="669.30" y2="731.70" stroke="#222" stroke-width="1.5" />
<line x1="465.86" y1="727.70" x2="465.86" y2="730.20" stroke="#222" stroke-width="1.1" />
<line x1="523.99" y1="727.70" x2="523.99" y2="730.20" stroke="#222" stroke-width="1.1" />
<line x1="582.11" y1="727.70" x2="582.11" y2="730.20" stroke="#222" stroke-width="1.1" />
<line x1="640.24" y1="727.70" x2="640.24" y2="730.20" stroke="#222" stroke-width="1.1" />
<g transform="translate(185.61,64.12) scale(0.9877)"><text x="0" y="0" font-size="19" fill="#F01818" >I=90mA</text></g>
<g transform="translate(185.33,149.82) scale(0.9727)"><text x="0" y="0" font-size="19" fill="#000" >I=0mA</text></g>
<g transform="translate(26.65,14.20) scale(1.0000)"><text x="0" y="0" font-size="25.5" fill="#000" >a</text></g>
<g transform="translate(151.40,249.17) scale(0.9942)"><text x="0" y="0" font-size="21" fill="#000" >Voltage (V)</text></g>
<g transform="translate(51.08,189.83) scale(1.0174)"><g transform="rotate(-90)"><text x="0" y="0" font-size="20.5" fill="#000" >Photocurrent</text></g></g>
<g transform="translate(50.48,59.52) scale(1.0167)"><g transform="rotate(-90)"><text x="0" y="0" font-size="20.5">μA</text></g></g>
<g transform="translate(50.88,65.24) scale(1.0417)"><g transform="rotate(-90)"><text x="0" y="0" font-size="13" font-family="Liberation Serif" fill="#333">(</text></g></g>
<g transform="translate(50.80,34.17) scale(1.0667)"><g transform="rotate(-90)"><text x="0" y="0" font-size="13" font-family="Liberation Serif" fill="#333">)</text></g></g>
<g transform="translate(89.20,23.90) scale(1.0000)"><text x="0" y="0" font-size="18.5" text-anchor="end">10<tspan font-size="12.3" dy="-7.2">4</tspan></text></g>
<g transform="translate(89.20,70.15) scale(1.0000)"><text x="0" y="0" font-size="18.5" text-anchor="end">10<tspan font-size="12.3" dy="-7.2">2</tspan></text></g>
<g transform="translate(89.20,116.40) scale(1.0000)"><text x="0" y="0" font-size="18.5" text-anchor="end">10<tspan font-size="12.3" dy="-7.2">0</tspan></text></g>
<g transform="translate(89.20,162.65) scale(1.0000)"><text x="0" y="0" font-size="18.5" text-anchor="end">10<tspan font-size="12.3" dy="-7.2">-2</tspan></text></g>
<g transform="translate(89.20,208.90) scale(1.0000)"><text x="0" y="0" font-size="18.5" text-anchor="end">10<tspan font-size="12.3" dy="-7.2">-4</tspan></text></g>
<g transform="translate(94.30,223.00) scale(1.0000)"><text x="0" y="0" font-size="18.2" fill="#000" text-anchor="middle">-2</text></g>
<g transform="translate(146.10,223.00) scale(1.0000)"><text x="0" y="0" font-size="18.2" fill="#000" text-anchor="middle">-1</text></g>
<g transform="translate(198.50,223.00) scale(1.0000)"><text x="0" y="0" font-size="18.2" fill="#000" text-anchor="middle">0</text></g>
<g transform="translate(249.80,223.00) scale(1.0000)"><text x="0" y="0" font-size="18.2" fill="#000" text-anchor="middle">1</text></g>
<g transform="translate(302.10,223.00) scale(1.0000)"><text x="0" y="0" font-size="18.2" fill="#000" text-anchor="middle">2</text></g>
<g transform="translate(363.10,25.30) scale(1.0000)"><text x="0" y="0" font-size="25.5" fill="#000" >b</text></g>
<g transform="translate(412.40,206.10) scale(1.0000)"><text x="0" y="0" font-size="18.5" fill="#000" text-anchor="end">0</text></g>
<g transform="translate(412.40,165.01) scale(1.0000)"><text x="0" y="0" font-size="18.5" fill="#000" text-anchor="end">10</text></g>
<g transform="translate(412.40,123.92) scale(1.0000)"><text x="0" y="0" font-size="18.5" fill="#000" text-anchor="end">20</text></g>
<g transform="translate(412.40,82.83) scale(1.0000)"><text x="0" y="0" font-size="18.5" fill="#000" text-anchor="end">30</text></g>
<g transform="translate(412.40,41.74) scale(1.0000)"><text x="0" y="0" font-size="18.5" fill="#000" text-anchor="end">40</text></g>
<g transform="translate(443.48,220.70) scale(1.0000)"><text x="0" y="0" font-size="17.5" fill="#000" text-anchor="middle">15</text></g>
<g transform="translate(479.71,220.70) scale(1.0000)"><text x="0" y="0" font-size="17.5" fill="#000" text-anchor="middle">30</text></g>
<g transform="translate(517.44,220.70) scale(1.0000)"><text x="0" y="0" font-size="17.5" fill="#000" text-anchor="middle">45</text></g>
<g transform="translate(553.16,220.70) scale(1.0000)"><text x="0" y="0" font-size="17.5" fill="#000" text-anchor="middle">60</text></g>
<g transform="translate(590.39,220.70) scale(1.0000)"><text x="0" y="0" font-size="17.5" fill="#000" text-anchor="middle">75</text></g>
<g transform="translate(626.62,220.70) scale(1.0000)"><text x="0" y="0" font-size="17.5" fill="#000" text-anchor="middle">90</text></g>
<g transform="translate(485.07,244.54) scale(1.0275)"><text x="0" y="0" font-size="20">I<tspan font-size="14" dy="5">LED</tspan><tspan dy="-5" font-size="20"> (mA)</tspan></text></g>
<g transform="translate(379.85,144.77) scale(1.0339)"><g transform="rotate(-90)"><text x="0" y="0" font-size="20">I<tspan font-size="14" dy="5">PD</tspan><tspan dy="-5" font-size="20"> <tspan font-family="Liberation Serif" font-size="13" dy="-0.8" fill="#333">(</tspan><tspan dy="0.8">μA</tspan><tspan font-family="Liberation Serif" font-size="13" dy="-0.8" fill="#333">)</tspan></tspan></text></g></g>
<g transform="translate(15.40,265.10) scale(1.0000)"><text x="0" y="0" font-size="25.5" fill="#000" >c</text></g>
<g transform="translate(90.80,468.79) scale(1.0366)"><text x="0" y="0" font-size="18" fill="#000" text-anchor="end">-40.6</text></g>
<g transform="translate(90.80,432.14) scale(1.0366)"><text x="0" y="0" font-size="18" fill="#000" text-anchor="end">-40.5</text></g>
<g transform="translate(90.80,395.04) scale(1.0366)"><text x="0" y="0" font-size="18" fill="#000" text-anchor="end">-40.4</text></g>
<g transform="translate(90.80,357.94) scale(1.0366)"><text x="0" y="0" font-size="18" fill="#000" text-anchor="end">-40.3</text></g>
<g transform="translate(90.80,320.84) scale(1.0366)"><text x="0" y="0" font-size="18" fill="#000" text-anchor="end">-40.2</text></g>
<g transform="translate(89.60,283.74) scale(1.0366)"><text x="0" y="0" font-size="18" fill="#000" text-anchor="end">-40.1</text></g>
<g transform="translate(654.35,484.36) scale(1.0679)"><text x="0" y="0" font-size="17.3" fill="#000" text-anchor="middle">250</text></g>
<g transform="translate(97.10,484.00) scale(1.0679)"><text x="0" y="0" font-size="17.3" fill="#000" text-anchor="middle">0</text></g>
<g transform="translate(208.52,484.00) scale(1.0679)"><text x="0" y="0" font-size="17.3" fill="#000" text-anchor="middle">50</text></g>
<g transform="translate(319.94,484.00) scale(1.0679)"><text x="0" y="0" font-size="17.3" fill="#000" text-anchor="middle">100</text></g>
<g transform="translate(431.36,484.00) scale(1.0679)"><text x="0" y="0" font-size="17.3" fill="#000" text-anchor="middle">150</text></g>
<g transform="translate(542.78,484.00) scale(1.0679)"><text x="0" y="0" font-size="17.3" fill="#000" text-anchor="middle">200</text></g>
<g transform="translate(338.00,508.99) scale(1.0160)"><text x="0" y="0" font-size="21" fill="#000" >Time (s)</text></g>
<g transform="translate(39.72,452.87) scale(1.0357)"><g transform="rotate(-90)"><text x="0" y="0" font-size="20.5" fill="#000" >Photocurrent</text></g></g>
<g transform="translate(38.71,319.63) scale(1.0348)"><g transform="rotate(-90)"><text x="0" y="0" font-size="19">μA</text></g></g>
<g transform="translate(39.00,326.63) scale(1.2333)"><g transform="rotate(-90)"><text x="0" y="0" font-size="13" font-family="Liberation Serif" fill="#333">(</text></g></g>
<g transform="translate(39.00,294.33) scale(1.2333)"><g transform="rotate(-90)"><text x="0" y="0" font-size="13" font-family="Liberation Serif" fill="#333">)</text></g></g>
<g transform="translate(234.81,364.72) scale(0.9925)"><text x="0" y="0" font-size="18.7" fill="#C92EEB" >Bending</text></g>
<g transform="translate(437.90,368.90) scale(1.0000)"><text x="0" y="0" font-size="18.7" fill="#EBBE14" >Release</text></g>
<g transform="translate(301.30,424.46) scale(1.0015)"><text x="0" y="0" font-size="18.7" fill="#000" >Without bending</text></g>
<g transform="translate(107.60,352.30) scale(0.9930)"><text x="0" y="0" font-size="18.5" fill="#000" >3.8 m<tspan font-size="12.5" dy="-7.5">-1</tspan></text></g>
<g transform="translate(104.97,391.40) scale(0.9850)"><text x="0" y="0" font-size="18.5" fill="#000" >0 m<tspan font-size="12.5" dy="-7.5">-1</tspan></text></g>
<g transform="translate(152.30,329.60) scale(0.9842)"><text x="0" y="0" font-size="18.5" fill="#000" >5.3 m<tspan font-size="12.5" dy="-7.5">-1</tspan></text></g>
<g transform="translate(215.70,315.00) scale(0.9982)"><text x="0" y="0" font-size="18.5" fill="#000" >6.5 m<tspan font-size="12.5" dy="-7.5">-1</tspan></text></g>
<g transform="translate(276.40,300.40) scale(1.0105)"><text x="0" y="0" font-size="18.5" fill="#000" >7.5 m<tspan font-size="12.5" dy="-7.5">-1</tspan></text></g>
<g transform="translate(346.60,297.00) scale(0.9807)"><text x="0" y="0" font-size="18.5" fill="#000" >8.4 m<tspan font-size="12.5" dy="-7.5">-1</tspan></text></g>
<g transform="translate(411.10,306.00) scale(0.9737)"><text x="0" y="0" font-size="18.5" fill="#000" >7.5 m<tspan font-size="12.5" dy="-7.5">-1</tspan></text></g>
<g transform="translate(467.30,320.20) scale(0.9982)"><text x="0" y="0" font-size="18.5" fill="#000" >6.5 m<tspan font-size="12.5" dy="-7.5">-1</tspan></text></g>
<g transform="translate(523.50,336.20) scale(1.0053)"><text x="0" y="0" font-size="18.5" fill="#000" >5.3 m<tspan font-size="12.5" dy="-7.5">-1</tspan></text></g>
<g transform="translate(578.80,357.20) scale(1.0035)"><text x="0" y="0" font-size="18.5" fill="#000" >3.8 m<tspan font-size="12.5" dy="-7.5">-1</tspan></text></g>
<g transform="translate(612.00,398.30) scale(0.9714)"><text x="0" y="0" font-size="18.5" fill="#000" >0 m<tspan font-size="12.5" dy="-7.5">-1</tspan></text></g>
<g transform="translate(10.00,535.50) scale(1.0000)"><text x="0" y="0" font-size="25.5" fill="#000" >d</text></g>
<g transform="translate(80.20,574.95) scale(1.0314)"><text x="0" y="0" font-size="18" fill="#000" text-anchor="end">-40.20</text></g>
<g transform="translate(80.20,628.05) scale(1.0314)"><text x="0" y="0" font-size="18" fill="#000" text-anchor="end">-40.26</text></g>
<g transform="translate(80.20,681.15) scale(1.0314)"><text x="0" y="0" font-size="18" fill="#000" text-anchor="end">-40.32</text></g>
<g transform="translate(80.20,734.25) scale(1.0314)"><text x="0" y="0" font-size="18" fill="#000" text-anchor="end">-40.38</text></g>
<g transform="translate(125.20,748.40) scale(0.9750)"><text x="0" y="0" font-size="17.3" fill="#000" text-anchor="middle">4</text></g>
<g transform="translate(86.40,748.40) scale(1.0000)"><text x="0" y="0" font-size="17.3" fill="#000" text-anchor="middle">3</text></g>
<g transform="translate(163.77,748.40) scale(1.0000)"><text x="0" y="0" font-size="17.3" fill="#000" text-anchor="middle">5</text></g>
<g transform="translate(202.45,748.40) scale(1.0000)"><text x="0" y="0" font-size="17.3" fill="#000" text-anchor="middle">6</text></g>
<g transform="translate(241.13,748.40) scale(1.0000)"><text x="0" y="0" font-size="17.3" fill="#000" text-anchor="middle">7</text></g>
<g transform="translate(279.82,748.40) scale(1.0000)"><text x="0" y="0" font-size="17.3" fill="#000" text-anchor="middle">8</text></g>
<g transform="translate(318.50,748.40) scale(1.0000)"><text x="0" y="0" font-size="17.3" fill="#000" text-anchor="middle">9</text></g>
<g transform="translate(126.49,771.83) scale(1.0091)"><text x="0" y="0" font-size="20.5">Curvature</text></g>
<g transform="translate(228.98,771.85) scale(0.9179)"><text x="0" y="0" font-size="20.5">m<tspan font-size="13" dy="-8">-1</tspan></text></g>
<g transform="translate(224.58,772.10) scale(0.9333)"><text x="0" y="0" font-size="13" font-family="Liberation Serif" fill="#333">(</text></g>
<g transform="translate(257.33,772.10) scale(0.9333)"><text x="0" y="0" font-size="13" font-family="Liberation Serif" fill="#333">)</text></g>
<g transform="translate(16.87,721.66) scale(1.0296)"><g transform="rotate(-90)"><text x="0" y="0" font-size="20.5" fill="#000" >Photocurrent</text></g></g>
<g transform="translate(16.29,591.01) scale(1.0083)"><g transform="rotate(-90)"><text x="0" y="0" font-size="20.5">μA</text></g></g>
<g transform="translate(16.12,595.49) scale(0.8917)"><g transform="rotate(-90)"><text x="0" y="0" font-size="13" font-family="Liberation Serif" fill="#333">(</text></g></g>
<g transform="translate(16.12,565.47) scale(0.8917)"><g transform="rotate(-90)"><text x="0" y="0" font-size="13" font-family="Liberation Serif" fill="#333">)</text></g></g>
<g transform="translate(89.58,559.83) scale(1.0171)"><text x="0" y="0" font-size="18" fill="#EB8232">Slope= 0.032 μA/m<tspan font-size="12.5" dy="-7.5">-1</tspan></text></g>
<g transform="translate(89.58,586.64) scale(1.0243)"><text x="0" y="0" font-size="18" fill="#EB8232">R<tspan font-size="12.5" dy="-7">2</tspan><tspan dy="7">=0.992</tspan></text></g>
<g transform="translate(147.88,698.02) scale(1.0207)"><text x="0" y="0" font-size="18" fill="#0B800B">Slope= 0.036 μA/m<tspan font-size="12.5" dy="-7.5">-1</tspan></text></g>
<g transform="translate(148.58,724.26) scale(1.0203)"><text x="0" y="0" font-size="18" fill="#0B800B">R<tspan font-size="12.5" dy="-7">2</tspan><tspan dy="7">=0.997</tspan></text></g>
<g transform="translate(147.59,637.94) scale(0.9703)"><g transform="rotate(-37)"><text x="0" y="0" font-size="19.5" fill="#F0A56E" >Bending</text></g></g>
<g transform="translate(211.21,675.05) scale(0.9159)"><g transform="rotate(-37)"><text x="0" y="0" font-size="19.5" fill="#0B800B" >Release</text></g></g>
<g transform="translate(327.85,535.20) scale(1.0000)"><text x="0" y="0" font-size="25.5" fill="#000" >e</text></g>
<g transform="translate(431.30,565.43) scale(1.0275)"><text x="0" y="0" font-size="18" fill="#000" text-anchor="end">-40.05</text></g>
<g transform="translate(431.30,616.38) scale(1.0275)"><text x="0" y="0" font-size="18" fill="#000" text-anchor="end">-40.20</text></g>
<g transform="translate(431.30,666.68) scale(1.0275)"><text x="0" y="0" font-size="18" fill="#000" text-anchor="end">-40.35</text></g>
<g transform="translate(431.30,716.98) scale(1.0275)"><text x="0" y="0" font-size="18" fill="#000" text-anchor="end">-40.50</text></g>
<g transform="translate(668.70,747.57) scale(1.0286)"><text x="0" y="0" font-size="17.3" fill="#000" text-anchor="middle">360</text></g>
<g transform="translate(437.00,747.60) scale(1.0491)"><text x="0" y="0" font-size="17.3" fill="#000" text-anchor="middle">0</text></g>
<g transform="translate(495.12,747.60) scale(1.0491)"><text x="0" y="0" font-size="17.3" fill="#000" text-anchor="middle">90</text></g>
<g transform="translate(553.25,747.60) scale(1.0491)"><text x="0" y="0" font-size="17.3" fill="#000" text-anchor="middle">180</text></g>
<g transform="translate(611.38,747.60) scale(1.0491)"><text x="0" y="0" font-size="17.3" fill="#000" text-anchor="middle">270</text></g>
<g transform="translate(515.20,774.92) scale(1.0120)"><text x="0" y="0" font-size="21" fill="#000" >Time (s)</text></g>
<g transform="translate(368.88,719.86) scale(1.0313)"><g transform="rotate(-90)"><text x="0" y="0" font-size="20.5" fill="#000" >Photocurrent</text></g></g>
<g transform="translate(368.11,584.99) scale(0.9917)"><g transform="rotate(-90)"><text x="0" y="0" font-size="20.5">μA</text></g></g>
<g transform="translate(369.46,593.68) scale(1.1842)"><g transform="rotate(-90)"><text x="0" y="0" font-size="20" font-family="Liberation Serif" fill="#222">(</text></g></g>
<g transform="translate(369.46,559.71) scale(1.1842)"><g transform="rotate(-90)"><text x="0" y="0" font-size="20" font-family="Liberation Serif" fill="#222">)</text></g></g>
<g transform="translate(460.50,562.90) scale(1.0509)"><text x="0" y="0" font-size="17.5" fill="#000" >8.4 m<tspan font-size="12.5" dy="-7.5">-1</tspan></text></g>
<g transform="translate(554.30,562.90) scale(1.0509)"><text x="0" y="0" font-size="17.5" fill="#000" >6.5 m<tspan font-size="12.5" dy="-7.5">-1</tspan></text></g>
<g transform="translate(461.00,591.50) scale(1.0418)"><text x="0" y="0" font-size="17.5" fill="#000" >5.3 m<tspan font-size="12.5" dy="-7.5">-1</tspan></text></g>
<g transform="translate(554.30,591.50) scale(1.0509)"><text x="0" y="0" font-size="17.5" fill="#000" >3.8 m<tspan font-size="12.5" dy="-7.5">-1</tspan></text></g>
<g transform="translate(461.00,619.50) scale(1.0418)"><text x="0" y="0" font-size="17.5" fill="#000" >2.7 m<tspan font-size="12.5" dy="-7.5">-1</tspan></text></g>
</svg></body></html>
